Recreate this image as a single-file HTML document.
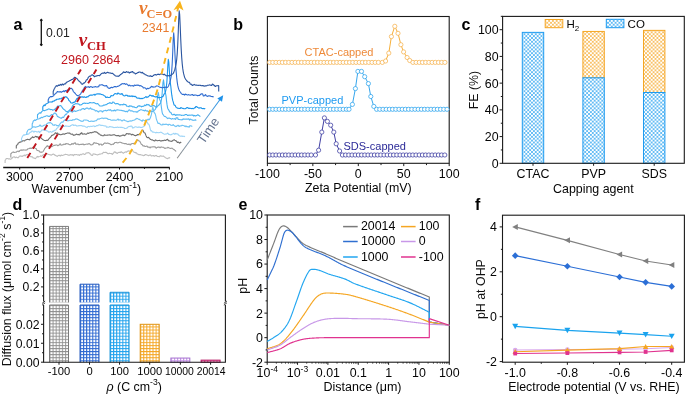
<!DOCTYPE html>
<html><head><meta charset="utf-8"><style>
html,body{margin:0;padding:0;background:#fff;width:685px;height:394px;overflow:hidden}
svg{display:block;will-change:transform;font-family:"Liberation Sans", sans-serif}
</style></head><body>
<svg width="685" height="394" viewBox="0 0 685 394">
<rect width="685" height="394" fill="#fff"/>
<text x="13.60" y="30.00" font-size="16" text-anchor="start" fill="#000" font-weight="bold" style='font-family:"Liberation Sans", sans-serif' >a</text>
<line x1="41.30" y1="19.70" x2="41.30" y2="45.20" stroke="#111" stroke-width="1.3" />
<path d="M41.3,18.6 L42.9,20.2 L41.3,21.8 L39.7,20.2 Z M41.3,43.1 L42.9,44.7 L41.3,46.3 L39.7,44.7 Z" fill="#111"/>
<text x="46.00" y="37.10" font-size="12.2" text-anchor="start" fill="#222" font-weight="normal" style='font-family:"Liberation Sans", sans-serif' >0.01</text>
<text x="78.80" y="46.30" font-size="19" text-anchor="start" fill="#C0161E" font-weight="bold" style='font-family:"Liberation Serif", serif' font-style="italic">ν</text>
<text x="87.00" y="50.40" font-size="12.6" text-anchor="start" fill="#C0161E" font-weight="bold" style='font-family:"Liberation Serif", serif' >CH</text>
<text x="61.00" y="64.20" font-size="12.55" text-anchor="start" fill="#C0161E" font-weight="normal" style='font-family:"Liberation Sans", sans-serif' >2960 2864</text>
<text x="139.10" y="13.70" font-size="19" text-anchor="start" fill="#E97B2F" font-weight="bold" style='font-family:"Liberation Serif", serif' font-style="italic">ν</text>
<text x="146.60" y="18.30" font-size="12.4" text-anchor="start" fill="#E97B2F" font-weight="bold" style='font-family:"Liberation Serif", serif' >C=O</text>
<text x="142.00" y="31.80" font-size="12.3" text-anchor="start" fill="#E97B2F" font-weight="normal" style='font-family:"Liberation Sans", sans-serif' >2341</text>
<line x1="3.20" y1="167.50" x2="169.70" y2="167.50" stroke="#111" stroke-width="1.3" />
<line x1="19.70" y1="167.50" x2="19.70" y2="169.60" stroke="#111" stroke-width="1.0" />
<text x="19.70" y="180.60" font-size="12.4" text-anchor="middle" fill="#050505" font-weight="normal" style='font-family:"Liberation Sans", sans-serif' >3000</text>
<line x1="69.60" y1="167.50" x2="69.60" y2="169.60" stroke="#111" stroke-width="1.0" />
<text x="69.60" y="180.60" font-size="12.4" text-anchor="middle" fill="#050505" font-weight="normal" style='font-family:"Liberation Sans", sans-serif' >2700</text>
<line x1="119.50" y1="167.50" x2="119.50" y2="169.60" stroke="#111" stroke-width="1.0" />
<text x="119.50" y="180.60" font-size="12.4" text-anchor="middle" fill="#050505" font-weight="normal" style='font-family:"Liberation Sans", sans-serif' >2400</text>
<line x1="169.40" y1="167.50" x2="169.40" y2="169.60" stroke="#111" stroke-width="1.0" />
<text x="169.40" y="180.60" font-size="12.4" text-anchor="middle" fill="#050505" font-weight="normal" style='font-family:"Liberation Sans", sans-serif' >2100</text>
<line x1="44.65" y1="167.50" x2="44.65" y2="168.90" stroke="#111" stroke-width="1.0" />
<line x1="94.55" y1="167.50" x2="94.55" y2="168.90" stroke="#111" stroke-width="1.0" />
<line x1="144.45" y1="167.50" x2="144.45" y2="168.90" stroke="#111" stroke-width="1.0" />
<text x="31.6" y="193.1" font-size="12.45" fill="#050505" style='font-family:"Liberation Sans", sans-serif'>Wavenumber (cm<tspan font-size="8.6" dy="-5.5">-1</tspan><tspan dy="5.5">)</tspan></text>
<path d="M5.10,163.10 L5.10,160.19 L5.60,159.87 L6.10,158.82 L6.60,158.46 L7.10,158.49 L7.60,158.44 L8.10,158.84 L8.60,158.79 L9.10,158.94 L9.60,158.75 L10.10,159.17 L10.60,159.16 L11.10,158.95 L11.60,158.65 L12.10,157.61 L12.60,157.83 L13.10,156.96 L13.60,156.92 L14.10,157.02 L14.60,156.91 L15.10,157.62 L15.60,157.59 L16.10,157.12 L16.60,157.28 L17.10,157.67 L17.60,157.45 L18.10,157.68 L18.60,157.59 L19.10,156.34 L19.60,156.15 L20.10,156.09 L20.60,155.90 L21.10,156.28 L21.60,156.13 L22.10,156.39 L22.60,156.25 L23.10,155.73 L23.60,155.77 L24.10,155.23 L24.60,155.06 L25.10,155.83 L25.60,155.65 L26.10,154.80 L26.60,154.67 L27.10,154.71 L27.60,154.59 L28.10,154.31 L28.60,154.63 L29.10,155.19 L29.60,155.60 L30.10,156.38 L30.60,156.77 L31.10,156.60 L31.60,156.87 L32.10,156.83 L32.60,157.09 L33.10,157.92 L33.60,157.90 L34.10,158.08 L34.60,158.25 L35.10,158.69 L35.60,158.56 L36.10,157.67 L36.60,157.34 L37.10,156.58 L37.60,156.41 L38.10,157.13 L38.60,156.79 L39.10,156.63 L39.60,156.38 L40.10,156.11 L40.60,155.78 L41.10,156.48 L41.60,156.13 L42.10,155.71 L42.60,155.60 L43.10,154.91 L43.60,154.82 L44.10,154.63 L44.60,154.76 L45.10,154.14 L45.60,153.92 L46.10,153.53 L46.60,153.62 L47.10,153.96 L47.60,154.08 L48.10,154.36 L48.60,154.43 L49.10,154.53 L49.60,154.65 L50.10,154.83 L50.60,154.77 L51.10,155.21 L51.60,155.02 L52.10,154.60 L52.60,154.35 L53.10,154.22 L53.60,153.99 L54.10,154.56 L54.60,154.83 L55.10,155.45 L55.60,155.30 L56.10,155.85 L56.60,156.04 L57.10,156.36 L57.60,156.32 L58.10,155.42 L58.60,155.53 L59.10,155.19 L59.60,155.32 L60.10,155.95 L60.60,155.90 L61.10,155.09 L61.60,155.16 L62.10,155.51 L62.60,155.44 L63.10,155.19 L63.60,155.06 L64.10,154.76 L64.60,154.79 L65.10,154.35 L65.60,154.33 L66.10,154.46 L66.60,154.43 L67.10,154.60 L67.60,154.71 L68.10,155.11 L68.60,155.17 L69.10,155.22 L69.60,155.21 L70.10,154.62 L70.60,154.86 L71.10,154.81 L71.60,154.83 L72.10,154.89 L72.60,154.66 L73.10,155.62 L73.60,155.64 L74.10,154.43 L74.60,154.57 L75.10,154.71 L75.60,154.66 L76.10,154.55 L76.60,154.46 L77.10,154.97 L77.60,154.99 L78.10,154.82 L78.60,154.69 L79.10,155.37 L79.60,155.34 L80.10,154.48 L80.60,154.38 L81.10,154.82 L81.60,154.69 L82.10,154.07 L82.60,153.94 L83.10,153.77 L83.60,153.74 L84.10,154.50 L84.60,154.53 L85.10,154.03 L85.60,153.92 L86.10,152.89 L86.60,152.95 L87.10,153.05 L87.60,152.87 L88.10,152.58 L88.60,152.58 L89.10,153.08 L89.60,153.12 L90.10,153.94 L90.60,154.08 L91.10,155.04 L91.60,155.20 L92.10,155.46 L92.60,155.46 L93.10,153.83 L93.60,153.99 L94.10,154.07 L94.60,154.12 L95.10,154.35 L95.60,154.32 L96.10,154.52 L96.60,154.72 L97.10,154.84 L97.60,154.87 L98.10,154.72 L98.60,154.59 L99.10,154.25 L99.60,154.14 L100.10,154.16 L100.60,154.03 L101.10,153.81 L101.60,153.76 L102.10,153.71 L102.60,153.66 L103.10,152.32 L103.60,152.35 L104.10,152.50 L104.60,152.46 L105.10,152.33 L105.60,152.32 L106.10,152.35 L106.60,152.43 L107.10,153.34 L107.60,153.24 L108.10,153.79 L108.60,153.73 L109.10,153.29 L109.60,153.29 L110.10,153.50 L110.60,153.55 L111.10,153.58 L111.60,153.60 L112.10,154.24 L112.60,154.34 L113.10,153.28 L113.60,153.13 L114.10,152.05 L114.60,151.87 L115.10,152.35 L115.60,152.09 L116.10,152.84 L116.60,152.85 L117.10,153.41 L117.60,153.24 L118.10,152.50 L118.60,152.50 L119.10,152.27 L119.60,152.52 L120.10,152.25 L120.60,152.57 L121.10,151.69 L121.60,151.97 L122.10,152.56 L122.60,152.60 L123.10,153.24 L123.60,153.19 L124.10,152.52 L124.60,152.52 L125.10,152.00 L125.60,151.88 L126.10,152.12 L126.60,152.08 L127.10,151.34 L127.60,151.38 L128.10,151.00 L128.60,150.84 L129.10,151.29 L129.60,151.07 L130.10,151.37 L130.60,151.00 L131.10,150.94 L131.60,150.36 L132.10,149.80 L132.60,150.28 L133.10,151.41 L133.60,151.87 L134.10,152.15 L134.60,152.50 L135.10,152.36 L135.60,152.93 L136.10,152.68 L136.60,153.14 L137.10,153.84 L137.60,153.93 L138.10,154.37 L138.60,154.61 L139.10,154.63 L139.60,154.65 L140.10,154.45 L140.60,154.61 L141.10,155.03 L141.60,155.07 L142.10,155.15 L142.60,155.24 L143.10,155.61 L143.60,155.60 L144.10,155.31 L144.60,155.33 L145.10,154.58 L145.60,154.62 L146.10,154.73 L146.60,154.73 L147.10,155.19 L147.60,155.34 L148.10,155.54 L148.60,155.71 L149.10,155.28 L149.60,155.26 L150.10,154.85 L150.60,154.94 L151.10,155.85 L151.60,155.88 L152.10,155.68 L152.60,155.71 L153.10,155.48 L153.60,155.52 L154.10,156.24 L154.60,156.31 L155.10,155.59 L155.60,155.73 L156.10,155.63 L156.60,155.38 L157.10,156.37 L157.60,156.47 L158.10,156.49 L158.60,156.49 L159.10,156.68 L159.60,156.69 L160.10,155.80 L160.60,155.79 L161.10,156.02 L161.60,156.12 L162.10,156.22 L162.60,156.32 L163.10,156.06 L163.60,156.08 L164.10,156.75 L164.60,156.95 L165.10,157.44 L165.60,157.64 L166.10,158.15 L166.60,158.21 L167.10,158.42 L167.60,158.62 L168.10,158.11 L168.60,158.17 L169.10,157.81 L169.60,157.98 L170.10,157.49" stroke="#BEBEBE" stroke-width="1.1" fill="none" stroke-linejoin="round" />
<path d="M10.80,157.40 L10.80,153.82 L11.30,153.48 L11.80,152.70 L12.30,152.33 L12.80,152.26 L13.30,151.92 L13.80,152.41 L14.30,152.49 L14.80,152.34 L15.30,152.32 L15.80,152.20 L16.30,152.14 L16.80,151.57 L17.30,151.36 L17.80,151.23 L18.30,151.15 L18.80,151.66 L19.30,151.47 L19.80,150.58 L20.30,150.39 L20.80,150.10 L21.30,149.84 L21.80,150.39 L22.30,150.29 L22.80,149.75 L23.30,149.84 L23.80,150.11 L24.30,150.01 L24.80,150.04 L25.30,149.96 L25.80,150.11 L26.30,150.16 L26.80,149.83 L27.30,149.65 L27.80,148.91 L28.30,148.82 L28.80,148.77 L29.30,148.59 L29.80,148.13 L30.30,147.96 L30.80,148.53 L31.30,148.53 L31.80,148.10 L32.30,147.82 L32.80,147.41 L33.30,147.41 L33.80,146.98 L34.30,147.19 L34.80,147.81 L35.30,148.22 L35.80,148.49 L36.30,148.81 L36.80,150.15 L37.30,150.48 L37.80,150.56 L38.30,150.82 L38.80,150.86 L39.30,151.04 L39.80,152.11 L40.30,152.30 L40.80,151.96 L41.30,152.04 L41.80,152.41 L42.30,152.00 L42.80,151.75 L43.30,151.31 L43.80,150.17 L44.30,149.52 L44.80,148.30 L45.30,147.87 L45.80,147.16 L46.30,146.91 L46.80,146.12 L47.30,145.62 L47.80,146.43 L48.30,146.39 L48.80,146.34 L49.30,146.37 L49.80,146.31 L50.30,146.38 L50.80,146.62 L51.30,146.57 L51.80,146.62 L52.30,146.47 L52.80,145.94 L53.30,145.83 L53.80,145.34 L54.30,145.39 L54.80,145.36 L55.30,145.28 L55.80,144.96 L56.30,144.91 L56.80,145.03 L57.30,145.28 L57.80,145.72 L58.30,145.49 L58.80,145.08 L59.30,144.93 L59.80,143.90 L60.30,143.72 L60.80,145.00 L61.30,145.09 L61.80,145.00 L62.30,145.01 L62.80,144.64 L63.30,144.66 L63.80,144.01 L64.30,144.10 L64.80,144.54 L65.30,144.42 L65.80,143.60 L66.30,143.47 L66.80,143.91 L67.30,143.85 L67.80,143.73 L68.30,143.78 L68.80,144.48 L69.30,144.50 L69.80,144.81 L70.30,144.83 L70.80,144.58 L71.30,144.41 L71.80,143.62 L72.30,143.62 L72.80,144.27 L73.30,144.20 L73.80,143.32 L74.30,143.33 L74.80,142.81 L75.30,142.70 L75.80,144.29 L76.30,144.23 L76.80,144.06 L77.30,144.11 L77.80,144.15 L78.30,144.04 L78.80,144.64 L79.30,144.75 L79.80,144.53 L80.30,144.52 L80.80,144.37 L81.30,144.40 L81.80,144.29 L82.30,144.38 L82.80,143.96 L83.30,143.97 L83.80,144.85 L84.30,144.61 L84.80,144.60 L85.30,144.56 L85.80,144.36 L86.30,144.15 L86.80,143.99 L87.30,143.94 L87.80,144.32 L88.30,144.11 L88.80,143.64 L89.30,143.67 L89.80,144.18 L90.30,144.31 L90.80,144.87 L91.30,145.00 L91.80,144.78 L92.30,144.68 L92.80,143.97 L93.30,144.12 L93.80,142.76 L94.30,142.63 L94.80,143.03 L95.30,143.11 L95.80,143.10 L96.30,143.10 L96.80,143.37 L97.30,143.49 L97.80,143.57 L98.30,143.63 L98.80,144.84 L99.30,145.00 L99.80,143.95 L100.30,144.12 L100.80,144.23 L101.30,144.16 L101.80,145.21 L102.30,144.99 L102.80,144.54 L103.30,144.50 L103.80,143.45 L104.30,143.43 L104.80,142.85 L105.30,142.96 L105.80,143.40 L106.30,143.36 L106.80,143.27 L107.30,143.14 L107.80,143.04 L108.30,143.26 L108.80,143.59 L109.30,143.55 L109.80,143.92 L110.30,144.05 L110.80,144.63 L111.30,144.73 L111.80,144.38 L112.30,144.16 L112.80,144.32 L113.30,144.35 L113.80,143.60 L114.30,143.41 L114.80,142.61 L115.30,142.55 L115.80,142.42 L116.30,142.33 L116.80,142.71 L117.30,142.72 L117.80,143.04 L118.30,142.80 L118.80,142.60 L119.30,142.29 L119.80,142.29 L120.30,142.20 L120.80,142.38 L121.30,142.43 L121.80,143.03 L122.30,142.96 L122.80,143.32 L123.30,143.31 L123.80,143.47 L124.30,143.63 L124.80,143.50 L125.30,143.63 L125.80,143.45 L126.30,143.74 L126.80,144.20 L127.30,144.34 L127.80,144.56 L128.30,144.57 L128.80,143.98 L129.30,144.00 L129.80,144.70 L130.30,144.87 L130.80,144.07 L131.30,144.14 L131.80,143.48 L132.30,143.51 L132.80,143.50 L133.30,143.69 L133.80,143.35 L134.30,143.36 L134.80,143.26 L135.30,142.93 L135.80,142.90 L136.30,141.79 L136.80,140.67 L137.30,139.71 L137.80,139.78 L138.30,140.65 L138.80,140.83 L139.30,141.10 L139.80,141.35 L140.30,142.31 L140.80,143.23 L141.30,144.25 L141.80,144.59 L142.30,144.83 L142.80,145.80 L143.30,146.11 L143.80,145.68 L144.30,145.69 L144.80,146.43 L145.30,146.46 L145.80,146.40 L146.30,146.26 L146.80,146.12 L147.30,146.29 L147.80,147.13 L148.30,147.27 L148.80,146.98 L149.30,147.02 L149.80,147.73 L150.30,147.85 L150.80,146.92 L151.30,147.09 L151.80,147.02 L152.30,147.04 L152.80,146.74 L153.30,146.79 L153.80,146.90 L154.30,146.77 L154.80,146.85 L155.30,146.90 L155.80,147.87 L156.30,148.16 L156.80,147.54 L157.30,147.56 L157.80,147.04 L158.30,146.99 L158.80,147.12 L159.30,147.17 L159.80,147.66 L160.30,147.75 L160.80,146.95 L161.30,146.82 L161.80,147.30 L162.30,147.22 L162.80,147.34 L163.30,147.19 L163.80,147.75 L164.30,147.87 L164.80,148.47 L165.30,148.50 L165.80,147.95 L166.30,147.93 L166.80,148.07 L167.30,148.03 L167.80,147.29 L168.30,147.45 L168.80,147.91 L169.30,148.09 L169.80,148.30 L170.30,148.43 L170.80,148.24 L171.30,148.36 L171.80,148.15 L172.30,148.30 L172.80,148.82 L173.30,149.16 L173.80,149.45 L174.30,149.74 L174.80,150.26 L175.30,150.42 L175.80,151.26 L176.30,151.18" stroke="#9C9C9C" stroke-width="1.1" fill="none" stroke-linejoin="round" />
<path d="M16.30,148.60 L16.30,145.78 L16.80,145.12 L17.30,144.86 L17.80,144.28 L18.30,143.03 L18.80,142.81 L19.30,142.49 L19.80,142.11 L20.30,142.16 L20.80,141.88 L21.30,141.81 L21.80,141.80 L22.30,141.04 L22.80,140.76 L23.30,140.77 L23.80,140.79 L24.30,141.05 L24.80,140.81 L25.30,140.04 L25.80,139.98 L26.30,139.77 L26.80,139.47 L27.30,139.38 L27.80,139.33 L28.30,139.53 L28.80,139.48 L29.30,139.83 L29.80,139.65 L30.30,138.87 L30.80,138.66 L31.30,137.93 L31.80,137.70 L32.30,137.01 L32.80,136.77 L33.30,137.61 L33.80,137.40 L34.30,137.19 L34.80,136.87 L35.30,136.49 L35.80,136.24 L36.30,137.00 L36.80,136.57 L37.30,137.09 L37.80,136.87 L38.30,137.39 L38.80,137.43 L39.30,136.80 L39.80,137.15 L40.30,137.52 L40.80,137.68 L41.30,138.07 L41.80,138.57 L42.30,139.16 L42.80,139.53 L43.30,139.75 L43.80,140.11 L44.30,140.40 L44.80,140.52 L45.30,140.62 L45.80,140.54 L46.30,140.39 L46.80,140.17 L47.30,140.51 L47.80,140.31 L48.30,139.64 L48.80,138.98 L49.30,138.36 L49.80,137.84 L50.30,137.38 L50.80,136.97 L51.30,136.06 L51.80,135.38 L52.30,135.37 L52.80,135.13 L53.30,134.75 L53.80,134.72 L54.30,133.96 L54.80,133.84 L55.30,132.81 L55.80,132.78 L56.30,133.40 L56.80,133.52 L57.30,133.13 L57.80,133.12 L58.30,134.17 L58.80,134.22 L59.30,134.50 L59.80,134.37 L60.30,134.78 L60.80,134.70 L61.30,134.59 L61.80,134.43 L62.30,134.11 L62.80,134.17 L63.30,133.91 L63.80,133.97 L64.30,134.15 L64.80,134.12 L65.30,133.79 L65.80,133.54 L66.30,133.48 L66.80,133.30 L67.30,133.04 L67.80,132.95 L68.30,133.01 L68.80,133.20 L69.30,132.96 L69.80,132.96 L70.30,133.84 L70.80,134.03 L71.30,134.31 L71.80,134.24 L72.30,134.12 L72.80,134.25 L73.30,135.13 L73.80,135.35 L74.30,135.14 L74.80,135.00 L75.30,134.72 L75.80,134.69 L76.30,134.13 L76.80,134.27 L77.30,134.56 L77.80,134.70 L78.30,134.42 L78.80,134.63 L79.30,134.81 L79.80,134.85 L80.30,133.57 L80.80,133.79 L81.30,132.84 L81.80,132.82 L82.30,134.05 L82.80,134.14 L83.30,133.94 L83.80,133.99 L84.30,133.85 L84.80,133.90 L85.30,134.10 L85.80,134.23 L86.30,134.15 L86.80,133.95 L87.30,133.26 L87.80,133.01 L88.30,133.33 L88.80,133.36 L89.30,132.93 L89.80,132.73 L90.30,132.66 L90.80,132.55 L91.30,132.84 L91.80,132.81 L92.30,132.32 L92.80,132.32 L93.30,132.21 L93.80,132.12 L94.30,131.68 L94.80,131.66 L95.30,131.87 L95.80,131.88 L96.30,131.91 L96.80,132.13 L97.30,132.69 L97.80,132.82 L98.30,133.77 L98.80,133.86 L99.30,133.99 L99.80,134.22 L100.30,135.02 L100.80,135.26 L101.30,135.14 L101.80,135.42 L102.30,135.64 L102.80,135.69 L103.30,135.79 L103.80,135.71 L104.30,134.79 L104.80,134.86 L105.30,135.32 L105.80,135.29 L106.30,135.18 L106.80,135.31 L107.30,135.13 L107.80,135.26 L108.30,135.10 L108.80,134.95 L109.30,135.05 L109.80,134.89 L110.30,135.22 L110.80,135.12 L111.30,135.26 L111.80,135.25 L112.30,134.96 L112.80,135.07 L113.30,134.73 L113.80,134.83 L114.30,134.68 L114.80,134.87 L115.30,135.23 L115.80,135.46 L116.30,135.64 L116.80,135.74 L117.30,135.45 L117.80,135.69 L118.30,135.42 L118.80,135.52 L119.30,136.13 L119.80,136.31 L120.30,135.78 L120.80,135.97 L121.30,135.82 L121.80,135.56 L122.30,135.20 L122.80,135.13 L123.30,135.34 L123.80,135.12 L124.30,135.69 L124.80,135.54 L125.30,134.93 L125.80,134.78 L126.30,133.79 L126.80,133.53 L127.30,133.73 L127.80,133.73 L128.30,133.85 L128.80,134.16 L129.30,133.71 L129.80,133.90 L130.30,133.95 L130.80,133.99 L131.30,134.81 L131.80,135.04 L132.30,134.21 L132.80,134.41 L133.30,134.75 L133.80,134.75 L134.30,135.41 L134.80,135.52 L135.30,135.62 L135.80,135.59 L136.30,135.36 L136.80,135.30 L137.30,134.64 L137.80,134.55 L138.30,134.68 L138.80,134.63 L139.30,134.02 L139.80,133.92 L140.30,133.18 L140.80,132.43 L141.30,131.72 L141.80,130.43 L142.30,130.11 L142.80,130.14 L143.30,131.02 L143.80,132.30 L144.30,132.78 L144.80,132.86 L145.30,133.78 L145.80,135.13 L146.30,136.34 L146.80,137.35 L147.30,137.51 L147.80,137.75 L148.30,137.29 L148.80,137.62 L149.30,138.23 L149.80,138.50 L150.30,139.55 L150.80,139.52 L151.30,139.68 L151.80,139.92 L152.30,139.85 L152.80,140.13 L153.30,140.48 L153.80,140.63 L154.30,140.87 L154.80,140.90 L155.30,139.91 L155.80,140.07 L156.30,140.28 L156.80,140.44 L157.30,140.81 L157.80,140.72 L158.30,140.54 L158.80,140.54 L159.30,140.47 L159.80,140.34 L160.30,140.96 L160.80,140.98 L161.30,140.87 L161.80,140.84 L162.30,140.50 L162.80,140.71 L163.30,140.63 L163.80,140.53 L164.30,140.13 L164.80,140.21 L165.30,140.45 L165.80,140.34 L166.30,139.82 L166.80,139.96 L167.30,139.29 L167.80,139.39 L168.30,140.59 L168.80,140.66 L169.30,140.89 L169.80,140.89 L170.30,141.12 L170.80,141.21 L171.30,141.27 L171.80,141.41 L172.30,140.82 L172.80,140.68 L173.30,139.97 L173.80,140.00 L174.30,139.79 L174.80,140.19 L175.30,140.43 L175.80,140.70 L176.30,141.05 L176.80,141.45 L177.30,142.37 L177.80,142.54 L178.30,142.15 L178.80,142.18 L179.30,143.05 L179.80,143.09 L180.30,142.30 L180.80,142.56 L181.30,142.29" stroke="#6E6E6E" stroke-width="1.1" fill="none" stroke-linejoin="round" />
<path d="M21.50,141.30 L21.50,138.44 L22.00,137.64 L22.50,136.19 L23.00,135.73 L23.50,135.24 L24.00,134.68 L24.50,135.17 L25.00,134.84 L25.50,134.76 L26.00,134.55 L26.50,134.09 L27.00,133.97 L27.50,134.19 L28.00,134.08 L28.50,134.12 L29.00,133.79 L29.50,132.86 L30.00,132.54 L30.50,132.18 L31.00,132.18 L31.50,131.24 L32.00,131.04 L32.50,131.10 L33.00,131.10 L33.50,132.03 L34.00,132.12 L34.50,131.39 L35.00,131.26 L35.50,131.47 L36.00,131.45 L36.50,131.94 L37.00,131.90 L37.50,131.95 L38.00,131.92 L38.50,131.28 L39.00,131.24 L39.50,132.56 L40.00,132.24 L40.50,131.42 L41.00,131.16 L41.50,130.26 L42.00,129.87 L42.50,130.08 L43.00,129.94 L43.50,130.16 L44.00,130.25 L44.50,130.33 L45.00,130.36 L45.50,129.79 L46.00,130.10 L46.50,130.78 L47.00,131.04 L47.50,131.02 L48.00,131.28 L48.50,132.09 L49.00,132.29 L49.50,131.87 L50.00,131.75 L50.50,131.57 L51.00,131.88 L51.50,132.23 L52.00,132.10 L52.50,131.59 L53.00,131.12 L53.50,131.34 L54.00,130.88 L54.50,130.52 L55.00,130.06 L55.50,130.29 L56.00,129.82 L56.50,128.66 L57.00,128.32 L57.50,127.90 L58.00,127.56 L58.50,126.35 L59.00,126.25 L59.50,125.84 L60.00,125.72 L60.50,125.83 L61.00,125.78 L61.50,126.72 L62.00,126.93 L62.50,126.30 L63.00,126.26 L63.50,126.43 L64.00,126.38 L64.50,126.37 L65.00,126.41 L65.50,125.82 L66.00,125.83 L66.50,126.23 L67.00,126.15 L67.50,126.25 L68.00,126.18 L68.50,126.42 L69.00,126.28 L69.50,126.54 L70.00,126.48 L70.50,125.49 L71.00,125.54 L71.50,125.13 L72.00,125.15 L72.50,124.70 L73.00,124.60 L73.50,125.45 L74.00,125.40 L74.50,125.17 L75.00,124.86 L75.50,125.34 L76.00,125.32 L76.50,125.96 L77.00,125.86 L77.50,126.07 L78.00,126.07 L78.50,125.66 L79.00,125.69 L79.50,125.58 L80.00,125.76 L80.50,125.45 L81.00,125.59 L81.50,125.48 L82.00,125.67 L82.50,126.14 L83.00,126.32 L83.50,126.11 L84.00,126.09 L84.50,126.21 L85.00,126.46 L85.50,126.89 L86.00,127.10 L86.50,127.29 L87.00,127.65 L87.50,126.82 L88.00,126.63 L88.50,126.56 L89.00,126.39 L89.50,126.71 L90.00,126.67 L90.50,126.32 L91.00,126.21 L91.50,126.39 L92.00,126.45 L92.50,126.27 L93.00,126.08 L93.50,126.00 L94.00,125.84 L94.50,126.59 L95.00,126.41 L95.50,126.41 L96.00,126.17 L96.50,125.65 L97.00,125.56 L97.50,125.63 L98.00,125.62 L98.50,124.93 L99.00,124.85 L99.50,124.75 L100.00,124.80 L100.50,125.34 L101.00,125.65 L101.50,125.29 L102.00,125.47 L102.50,125.42 L103.00,125.44 L103.50,125.73 L104.00,125.73 L104.50,125.95 L105.00,125.91 L105.50,125.98 L106.00,126.08 L106.50,127.15 L107.00,127.22 L107.50,126.92 L108.00,127.09 L108.50,127.18 L109.00,127.12 L109.50,126.47 L110.00,126.52 L110.50,126.77 L111.00,126.84 L111.50,126.93 L112.00,126.85 L112.50,127.30 L113.00,127.02 L113.50,127.57 L114.00,127.65 L114.50,127.51 L115.00,127.51 L115.50,127.41 L116.00,127.44 L116.50,127.34 L117.00,127.37 L117.50,127.01 L118.00,127.18 L118.50,127.43 L119.00,127.41 L119.50,127.27 L120.00,127.22 L120.50,127.39 L121.00,127.35 L121.50,127.36 L122.00,127.39 L122.50,127.43 L123.00,127.61 L123.50,127.70 L124.00,127.76 L124.50,128.58 L125.00,128.49 L125.50,128.48 L126.00,128.35 L126.50,128.13 L127.00,128.15 L127.50,127.26 L128.00,127.15 L128.50,126.63 L129.00,126.36 L129.50,126.52 L130.00,126.58 L130.50,126.06 L131.00,126.25 L131.50,126.12 L132.00,126.23 L132.50,127.99 L133.00,127.94 L133.50,127.58 L134.00,127.61 L134.50,127.00 L135.00,126.93 L135.50,126.77 L136.00,126.70 L136.50,126.99 L137.00,127.26 L137.50,127.24 L138.00,127.46 L138.50,127.02 L139.00,127.24 L139.50,126.96 L140.00,127.13 L140.50,127.40 L141.00,127.43 L141.50,127.51 L142.00,127.19 L142.50,127.25 L143.00,126.84 L143.50,126.64 L144.00,126.31 L144.50,125.78 L145.00,124.60 L145.50,123.51 L146.00,121.55 L146.50,120.61 L147.00,121.90 L147.50,122.81 L148.00,123.98 L148.50,123.94 L149.00,124.59 L149.50,125.99 L150.00,127.85 L150.50,130.17 L151.00,130.96 L151.50,130.65 L152.00,131.30 L152.50,132.11 L153.00,132.30 L153.50,132.04 L154.00,132.14 L154.50,132.34 L155.00,132.50 L155.50,132.68 L156.00,132.97 L156.50,132.41 L157.00,132.37 L157.50,132.62 L158.00,132.53 L158.50,132.68 L159.00,132.75 L159.50,132.50 L160.00,132.58 L160.50,132.19 L161.00,132.08 L161.50,132.54 L162.00,132.76 L162.50,133.20 L163.00,133.39 L163.50,133.80 L164.00,134.04 L164.50,134.20 L165.00,134.19 L165.50,133.99 L166.00,133.97 L166.50,133.87 L167.00,133.74 L167.50,133.15 L168.00,133.28 L168.50,134.35 L169.00,134.25 L169.50,134.49 L170.00,134.62 L170.50,134.78 L171.00,134.90 L171.50,134.36 L172.00,134.23 L172.50,134.02 L173.00,133.94 L173.50,133.32 L174.00,133.41 L174.50,134.20 L175.00,134.33 L175.50,133.40 L176.00,133.50 L176.50,133.85 L177.00,133.75 L177.50,134.16 L178.00,134.07 L178.50,135.20 L179.00,135.18 L179.50,135.86 L180.00,136.14 L180.50,136.17 L181.00,136.31 L181.50,135.94 L182.00,136.03 L182.50,136.36 L183.00,136.41 L183.50,136.26 L184.00,136.31 L184.50,136.41 L185.00,136.70" stroke="#9ED5F7" stroke-width="1.1" fill="none" stroke-linejoin="round" />
<path d="M26.80,134.90 L26.80,132.36 L27.30,131.59 L27.80,130.25 L28.30,129.91 L28.80,129.40 L29.30,129.15 L29.80,129.66 L30.30,129.49 L30.80,128.74 L31.30,128.60 L31.80,127.79 L32.30,127.65 L32.80,127.04 L33.30,126.76 L33.80,127.01 L34.30,126.84 L34.80,127.12 L35.30,127.12 L35.80,127.33 L36.30,126.99 L36.80,126.82 L37.30,126.80 L37.80,126.48 L38.30,126.36 L38.80,126.29 L39.30,126.07 L39.80,125.12 L40.30,124.97 L40.80,126.13 L41.30,126.10 L41.80,126.25 L42.30,126.19 L42.80,125.92 L43.30,125.79 L43.80,125.29 L44.30,125.21 L44.80,125.02 L45.30,125.05 L45.80,125.00 L46.30,124.66 L46.80,123.73 L47.30,123.47 L47.80,123.06 L48.30,122.66 L48.80,123.05 L49.30,123.07 L49.80,122.41 L50.30,122.57 L50.80,122.88 L51.30,123.32 L51.80,123.55 L52.30,123.99 L52.80,125.07 L53.30,125.29 L53.80,125.08 L54.30,125.38 L54.80,124.70 L55.30,124.81 L55.80,125.00 L56.30,125.08 L56.80,125.67 L57.30,125.47 L57.80,125.79 L58.30,125.48 L58.80,125.26 L59.30,124.79 L59.80,124.17 L60.30,123.70 L60.80,122.97 L61.30,122.39 L61.80,122.07 L62.30,121.74 L62.80,122.33 L63.30,121.84 L63.80,120.84 L64.30,120.53 L64.80,119.91 L65.30,119.89 L65.80,120.47 L66.30,120.38 L66.80,120.49 L67.30,120.64 L67.80,121.03 L68.30,120.78 L68.80,120.60 L69.30,120.46 L69.80,120.32 L70.30,120.29 L70.80,120.33 L71.30,120.30 L71.80,120.49 L72.30,120.28 L72.80,119.66 L73.30,119.70 L73.80,119.85 L74.30,119.91 L74.80,119.45 L75.30,119.47 L75.80,118.91 L76.30,118.87 L76.80,119.14 L77.30,118.97 L77.80,119.55 L78.30,119.47 L78.80,120.05 L79.30,120.06 L79.80,120.52 L80.30,120.64 L80.80,121.12 L81.30,121.00 L81.80,121.39 L82.30,121.43 L82.80,121.04 L83.30,121.10 L83.80,120.03 L84.30,119.97 L84.80,120.03 L85.30,120.09 L85.80,120.02 L86.30,120.05 L86.80,120.17 L87.30,120.23 L87.80,120.59 L88.30,120.60 L88.80,121.32 L89.30,121.55 L89.80,121.44 L90.30,121.54 L90.80,121.15 L91.30,121.03 L91.80,121.30 L92.30,121.15 L92.80,121.48 L93.30,121.54 L93.80,121.04 L94.30,120.98 L94.80,121.13 L95.30,120.82 L95.80,120.76 L96.30,120.65 L96.80,119.93 L97.30,119.66 L97.80,118.91 L98.30,118.77 L98.80,119.31 L99.30,119.17 L99.80,118.71 L100.30,118.48 L100.80,118.51 L101.30,118.34 L101.80,118.05 L102.30,117.97 L102.80,118.48 L103.30,118.59 L103.80,118.28 L104.30,118.10 L104.80,118.40 L105.30,118.19 L105.80,118.08 L106.30,118.36 L106.80,118.23 L107.30,118.40 L107.80,119.20 L108.30,119.39 L108.80,119.28 L109.30,119.43 L109.80,119.53 L110.30,119.53 L110.80,120.09 L111.30,120.24 L111.80,120.17 L112.30,120.32 L112.80,120.03 L113.30,120.14 L113.80,119.96 L114.30,119.95 L114.80,120.16 L115.30,120.23 L115.80,120.25 L116.30,120.15 L116.80,120.03 L117.30,119.74 L117.80,119.03 L118.30,119.12 L118.80,120.14 L119.30,120.06 L119.80,119.68 L120.30,119.72 L120.80,120.20 L121.30,120.25 L121.80,120.93 L122.30,120.96 L122.80,120.19 L123.30,120.26 L123.80,119.87 L124.30,119.85 L124.80,120.56 L125.30,120.69 L125.80,120.81 L126.30,120.92 L126.80,121.21 L127.30,121.31 L127.80,121.79 L128.30,121.63 L128.80,121.22 L129.30,121.12 L129.80,120.99 L130.30,120.73 L130.80,121.12 L131.30,121.08 L131.80,120.68 L132.30,120.74 L132.80,120.35 L133.30,120.26 L133.80,120.17 L134.30,120.07 L134.80,119.88 L135.30,119.51 L135.80,118.91 L136.30,118.94 L136.80,118.38 L137.30,118.47 L137.80,118.76 L138.30,118.96 L138.80,119.35 L139.30,119.23 L139.80,119.82 L140.30,119.96 L140.80,120.27 L141.30,120.55 L141.80,120.95 L142.30,121.18 L142.80,119.90 L143.30,119.99 L143.80,120.31 L144.30,120.47 L144.80,120.86 L145.30,120.75 L145.80,120.07 L146.30,119.95 L146.80,119.91 L147.30,119.91 L147.80,119.35 L148.30,119.13 L148.80,119.90 L149.30,119.61 L149.80,118.84 L150.30,118.05 L150.80,116.53 L151.30,114.94 L151.80,112.30 L152.30,109.19 L152.80,107.21 L153.30,108.83 L153.80,111.72 L154.30,112.75 L154.80,113.26 L155.30,114.11 L155.80,116.13 L156.30,118.85 L156.80,120.25 L157.30,121.42 L157.80,123.03 L158.30,123.54 L158.80,123.03 L159.30,123.40 L159.80,123.88 L160.30,124.10 L160.80,124.76 L161.30,124.86 L161.80,125.02 L162.30,124.94 L162.80,124.07 L163.30,124.12 L163.80,124.64 L164.30,124.56 L164.80,124.35 L165.30,124.54 L165.80,124.08 L166.30,124.14 L166.80,124.38 L167.30,124.45 L167.80,124.92 L168.30,125.15 L168.80,124.40 L169.30,124.36 L169.80,124.46 L170.30,124.71 L170.80,125.27 L171.30,125.26 L171.80,125.39 L172.30,125.48 L172.80,124.74 L173.30,124.63 L173.80,125.45 L174.30,125.50 L174.80,126.13 L175.30,126.15 L175.80,126.63 L176.30,126.56 L176.80,125.91 L177.30,125.86 L177.80,125.33 L178.30,125.36 L178.80,126.20 L179.30,126.39 L179.80,125.78 L180.30,125.94 L180.80,125.82 L181.30,125.90 L181.80,125.40 L182.30,125.30 L182.80,125.54 L183.30,125.53 L183.80,125.67 L184.30,125.79 L184.80,126.55 L185.30,126.63 L185.80,125.91 L186.30,126.07 L186.80,126.82 L187.30,126.83 L187.80,126.60 L188.30,126.65 L188.80,127.12 L189.30,127.18 L189.80,125.67 L190.30,125.79 L190.80,125.87 L191.30,126.09 L191.80,126.11 L192.30,126.43" stroke="#70C3F4" stroke-width="1.1" fill="none" stroke-linejoin="round" />
<path d="M32.20,127.00 L32.20,123.90 L32.70,123.08 L33.20,121.17 L33.70,120.75 L34.20,120.50 L34.70,119.94 L35.20,120.48 L35.70,120.28 L36.20,119.80 L36.70,119.42 L37.20,119.12 L37.70,118.97 L38.20,118.93 L38.70,118.91 L39.20,118.76 L39.70,118.54 L40.20,117.98 L40.70,118.23 L41.20,117.44 L41.70,117.24 L42.20,117.55 L42.70,117.66 L43.20,116.99 L43.70,116.82 L44.20,116.72 L44.70,116.38 L45.20,116.45 L45.70,116.17 L46.20,115.71 L46.70,115.80 L47.20,116.05 L47.70,115.85 L48.20,116.41 L48.70,116.27 L49.20,116.55 L49.70,116.47 L50.20,115.53 L50.70,115.59 L51.20,114.80 L51.70,114.57 L52.20,114.86 L52.70,114.63 L53.20,114.28 L53.70,113.86 L54.20,113.08 L54.70,112.96 L55.20,113.24 L55.70,113.35 L56.20,114.30 L56.70,114.71 L57.20,116.12 L57.70,116.60 L58.20,116.73 L58.70,117.12 L59.20,117.32 L59.70,117.64 L60.20,117.83 L60.70,118.17 L61.20,118.09 L61.70,118.22 L62.20,117.32 L62.70,117.16 L63.20,117.56 L63.70,117.38 L64.20,116.14 L64.70,115.66 L65.20,114.80 L65.70,114.20 L66.20,114.38 L66.70,113.81 L67.20,112.93 L67.70,112.45 L68.20,112.47 L68.70,112.02 L69.20,110.91 L69.70,110.73 L70.20,111.16 L70.70,110.97 L71.20,111.69 L71.70,111.84 L72.20,112.02 L72.70,112.12 L73.20,111.15 L73.70,111.13 L74.20,110.90 L74.70,110.68 L75.20,111.55 L75.70,111.38 L76.20,111.20 L76.70,110.99 L77.20,110.75 L77.70,110.64 L78.20,110.42 L78.70,110.25 L79.20,110.04 L79.70,109.94 L80.20,110.04 L80.70,110.10 L81.20,109.40 L81.70,109.29 L82.20,108.69 L82.70,108.62 L83.20,108.50 L83.70,108.47 L84.20,109.51 L84.70,109.42 L85.20,108.91 L85.70,108.80 L86.20,108.07 L86.70,108.00 L87.20,108.23 L87.70,108.04 L88.20,108.79 L88.70,108.98 L89.20,108.84 L89.70,108.76 L90.20,107.91 L90.70,107.96 L91.20,109.08 L91.70,109.26 L92.20,108.96 L92.70,109.18 L93.20,109.48 L93.70,109.73 L94.20,109.75 L94.70,109.91 L95.20,110.87 L95.70,110.97 L96.20,110.65 L96.70,110.68 L97.20,111.23 L97.70,111.24 L98.20,111.99 L98.70,111.95 L99.20,111.03 L99.70,110.98 L100.20,110.98 L100.70,110.76 L101.20,110.97 L101.70,110.95 L102.20,111.91 L102.70,111.85 L103.20,111.05 L103.70,110.89 L104.20,110.74 L104.70,110.59 L105.20,110.40 L105.70,110.37 L106.20,110.91 L106.70,110.81 L107.20,110.50 L107.70,110.35 L108.20,109.75 L108.70,109.92 L109.20,110.17 L109.70,110.22 L110.20,109.63 L110.70,109.85 L111.20,110.71 L111.70,111.01 L112.20,110.76 L112.70,110.81 L113.20,110.57 L113.70,110.84 L114.20,110.15 L114.70,110.12 L115.20,110.81 L115.70,110.96 L116.20,110.04 L116.70,109.98 L117.20,109.85 L117.70,109.81 L118.20,110.04 L118.70,109.94 L119.20,110.13 L119.70,110.19 L120.20,110.31 L120.70,110.27 L121.20,110.56 L121.70,110.39 L122.20,110.63 L122.70,110.63 L123.20,110.89 L123.70,110.78 L124.20,111.10 L124.70,111.06 L125.20,111.58 L125.70,111.76 L126.20,111.24 L126.70,111.30 L127.20,111.74 L127.70,111.89 L128.20,110.61 L128.70,110.37 L129.20,109.84 L129.70,109.96 L130.20,110.80 L130.70,111.04 L131.20,110.85 L131.70,110.86 L132.20,111.04 L132.70,111.11 L133.20,111.67 L133.70,111.83 L134.20,111.73 L134.70,111.70 L135.20,111.82 L135.70,111.70 L136.20,112.25 L136.70,111.87 L137.20,111.79 L137.70,112.07 L138.20,110.91 L138.70,110.78 L139.20,110.50 L139.70,110.36 L140.20,109.83 L140.70,109.82 L141.20,109.80 L141.70,109.76 L142.20,110.04 L142.70,110.23 L143.20,110.40 L143.70,110.32 L144.20,110.79 L144.70,110.89 L145.20,110.08 L145.70,110.30 L146.20,110.85 L146.70,110.94 L147.20,110.74 L147.70,110.93 L148.20,111.63 L148.70,111.62 L149.20,112.25 L149.70,112.30 L150.20,111.55 L150.70,111.56 L151.20,111.23 L151.70,111.31 L152.20,111.59 L152.70,111.45 L153.20,111.16 L153.70,110.87 L154.20,110.39 L154.70,109.90 L155.20,109.59 L155.70,108.58 L156.20,107.58 L156.70,105.09 L157.20,100.10 L157.70,95.26 L158.20,92.41 L158.70,94.65 L159.20,97.50 L159.70,99.66 L160.20,100.54 L160.70,101.66 L161.20,105.68 L161.70,109.61 L162.20,112.62 L162.70,114.23 L163.20,114.73 L163.70,115.52 L164.20,116.21 L164.70,116.53 L165.20,116.42 L165.70,116.72 L166.20,117.12 L166.70,117.39 L167.20,118.35 L167.70,118.57 L168.20,118.14 L168.70,118.19 L169.20,118.08 L169.70,118.29 L170.20,118.56 L170.70,118.66 L171.20,119.02 L171.70,119.12 L172.20,118.57 L172.70,118.65 L173.20,118.83 L173.70,118.93 L174.20,118.63 L174.70,118.73 L175.20,119.26 L175.70,119.38 L176.20,117.67 L176.70,117.85 L177.20,117.78 L177.70,117.73 L178.20,119.49 L178.70,119.51 L179.20,119.58 L179.70,119.49 L180.20,119.79 L180.70,119.69 L181.20,119.80 L181.70,119.86 L182.20,119.40 L182.70,119.63 L183.20,118.90 L183.70,118.94 L184.20,119.17 L184.70,119.08 L185.20,119.22 L185.70,119.14 L186.20,119.07 L186.70,119.13 L187.20,119.17 L187.70,119.15 L188.20,118.91 L188.70,118.74 L189.20,119.70 L189.70,120.03 L190.20,119.14 L190.70,119.20 L191.20,119.67 L191.70,119.68 L192.20,120.19 L192.70,120.12 L193.20,120.31 L193.70,120.36 L194.20,120.16 L194.70,120.24 L195.20,119.80 L195.70,119.91 L196.20,120.56" stroke="#5CB9F3" stroke-width="1.1" fill="none" stroke-linejoin="round" />
<path d="M37.50,118.50 L37.50,114.73 L38.00,114.24 L38.50,113.83 L39.00,113.28 L39.50,112.90 L40.00,112.65 L40.50,113.17 L41.00,112.99 L41.50,111.74 L42.00,111.52 L42.50,110.78 L43.00,110.61 L43.50,110.56 L44.00,110.50 L44.50,110.62 L45.00,110.41 L45.50,110.16 L46.00,110.03 L46.50,109.82 L47.00,109.89 L47.50,109.41 L48.00,109.19 L48.50,108.96 L49.00,108.89 L49.50,109.30 L50.00,109.20 L50.50,109.62 L51.00,109.47 L51.50,109.57 L52.00,109.62 L52.50,110.15 L53.00,109.98 L53.50,110.02 L54.00,109.81 L54.50,109.38 L55.00,109.20 L55.50,108.37 L56.00,108.12 L56.50,107.18 L57.00,106.93 L57.50,106.30 L58.00,105.97 L58.50,106.16 L59.00,105.97 L59.50,105.79 L60.00,105.71 L60.50,105.51 L61.00,105.69 L61.50,106.58 L62.00,107.13 L62.50,107.87 L63.00,108.63 L63.50,109.00 L64.00,109.53 L64.50,109.76 L65.00,110.16 L65.50,111.09 L66.00,111.29 L66.50,111.53 L67.00,111.60 L67.50,111.50 L68.00,111.44 L68.50,111.01 L69.00,110.63 L69.50,110.04 L70.00,109.54 L70.50,109.25 L71.00,108.57 L71.50,107.86 L72.00,107.26 L72.50,105.77 L73.00,105.07 L73.50,104.69 L74.00,104.28 L74.50,104.36 L75.00,104.03 L75.50,103.65 L76.00,103.58 L76.50,103.80 L77.00,103.84 L77.50,103.73 L78.00,103.73 L78.50,104.19 L79.00,104.17 L79.50,104.85 L80.00,104.78 L80.50,105.05 L81.00,105.03 L81.50,104.44 L82.00,104.46 L82.50,103.79 L83.00,103.40 L83.50,103.29 L84.00,103.36 L84.50,103.00 L85.00,103.05 L85.50,103.53 L86.00,103.32 L86.50,103.32 L87.00,103.17 L87.50,103.48 L88.00,103.56 L88.50,103.30 L89.00,103.18 L89.50,102.63 L90.00,102.56 L90.50,102.62 L91.00,102.67 L91.50,102.84 L92.00,102.98 L92.50,102.71 L93.00,102.71 L93.50,102.47 L94.00,102.55 L94.50,102.95 L95.00,103.00 L95.50,103.60 L96.00,103.80 L96.50,103.71 L97.00,103.98 L97.50,103.48 L98.00,103.66 L98.50,104.62 L99.00,105.04 L99.50,105.82 L100.00,106.00 L100.50,105.99 L101.00,105.97 L101.50,105.96 L102.00,106.08 L102.50,105.82 L103.00,105.73 L103.50,105.12 L104.00,105.12 L104.50,105.14 L105.00,105.03 L105.50,104.77 L106.00,104.65 L106.50,104.68 L107.00,104.30 L107.50,103.66 L108.00,103.56 L108.50,103.36 L109.00,103.28 L109.50,102.76 L110.00,102.49 L110.50,103.23 L111.00,103.12 L111.50,103.43 L112.00,103.51 L112.50,102.14 L113.00,102.11 L113.50,102.28 L114.00,102.25 L114.50,103.34 L115.00,103.48 L115.50,103.85 L116.00,103.89 L116.50,103.45 L117.00,103.61 L117.50,103.62 L118.00,103.62 L118.50,104.20 L119.00,104.31 L119.50,104.84 L120.00,105.11 L120.50,104.55 L121.00,104.63 L121.50,104.68 L122.00,104.59 L122.50,104.73 L123.00,104.90 L123.50,104.16 L124.00,104.16 L124.50,104.55 L125.00,104.65 L125.50,104.60 L126.00,104.55 L126.50,106.04 L127.00,106.27 L127.50,106.22 L128.00,106.26 L128.50,106.58 L129.00,106.82 L129.50,105.87 L130.00,105.89 L130.50,106.01 L131.00,106.33 L131.50,106.12 L132.00,106.36 L132.50,106.87 L133.00,106.83 L133.50,106.87 L134.00,106.88 L134.50,107.09 L135.00,107.46 L135.50,107.58 L136.00,107.70 L136.50,107.61 L137.00,107.47 L137.50,106.37 L138.00,106.35 L138.50,105.94 L139.00,105.68 L139.50,106.15 L140.00,105.91 L140.50,106.32 L141.00,106.19 L141.50,106.88 L142.00,106.57 L142.50,106.38 L143.00,106.34 L143.50,106.28 L144.00,106.07 L144.50,105.13 L145.00,105.05 L145.50,105.51 L146.00,105.64 L146.50,104.53 L147.00,104.38 L147.50,104.78 L148.00,104.90 L148.50,104.66 L149.00,104.62 L149.50,105.76 L150.00,105.89 L150.50,106.24 L151.00,106.57 L151.50,105.92 L152.00,106.11 L152.50,105.59 L153.00,105.62 L153.50,105.49 L154.00,105.62 L154.50,106.08 L155.00,106.22 L155.50,107.07 L156.00,106.91 L156.50,107.30 L157.00,106.98 L157.50,106.07 L158.00,105.81 L158.50,105.45 L159.00,104.98 L159.50,104.24 L160.00,103.49 L160.50,103.21 L161.00,101.69 L161.50,99.34 L162.00,95.21 L162.50,88.91 L163.00,82.40 L163.50,79.90 L164.00,83.51 L164.50,88.47 L165.00,92.14 L165.50,93.28 L166.00,95.85 L166.50,100.58 L167.00,104.39 L167.50,107.29 L168.00,109.00 L168.50,109.54 L169.00,110.50 L169.50,111.60 L170.00,112.21 L170.50,112.31 L171.00,112.56 L171.50,114.01 L172.00,114.39 L172.50,114.66 L173.00,114.90 L173.50,114.40 L174.00,114.14 L174.50,114.69 L175.00,114.66 L175.50,115.36 L176.00,115.27 L176.50,114.75 L177.00,114.85 L177.50,114.73 L178.00,114.98 L178.50,114.91 L179.00,114.94 L179.50,114.85 L180.00,114.90 L180.50,115.07 L181.00,115.14 L181.50,115.44 L182.00,115.29 L182.50,115.25 L183.00,115.32 L183.50,115.25 L184.00,115.40 L184.50,114.99 L185.00,114.99 L185.50,114.46 L186.00,114.53 L186.50,114.52 L187.00,114.82 L187.50,115.48 L188.00,115.44 L188.50,115.21 L189.00,114.89 L189.50,115.19 L190.00,115.27 L190.50,115.19 L191.00,115.03 L191.50,115.01 L192.00,115.23 L192.50,115.01 L193.00,114.94 L193.50,116.00 L194.00,115.97 L194.50,115.40 L195.00,115.58 L195.50,115.97 L196.00,115.95 L196.50,115.46 L197.00,115.37 L197.50,114.77 L198.00,114.73 L198.50,115.28 L199.00,115.51 L199.50,115.96 L200.00,116.31 L200.50,116.22" stroke="#47B0F0" stroke-width="1.1" fill="none" stroke-linejoin="round" />
<path d="M42.80,109.90 L42.80,106.77 L43.30,106.17 L43.80,105.33 L44.30,104.82 L44.80,105.74 L45.30,105.35 L45.80,104.16 L46.30,103.75 L46.80,103.63 L47.30,103.37 L47.80,103.01 L48.30,102.68 L48.80,102.23 L49.30,102.05 L49.80,101.99 L50.30,101.98 L50.80,102.01 L51.30,101.89 L51.80,102.12 L52.30,101.94 L52.80,101.16 L53.30,101.03 L53.80,101.29 L54.30,100.96 L54.80,100.37 L55.30,100.27 L55.80,99.81 L56.30,99.88 L56.80,99.20 L57.30,99.30 L57.80,99.27 L58.30,99.16 L58.80,98.91 L59.30,98.61 L59.80,98.98 L60.30,98.80 L60.80,98.77 L61.30,98.53 L61.80,98.13 L62.30,97.95 L62.80,97.76 L63.30,97.77 L63.80,97.36 L64.30,97.10 L64.80,97.01 L65.30,96.89 L65.80,96.78 L66.30,97.21 L66.80,97.17 L67.30,97.91 L67.80,98.44 L68.30,98.79 L68.80,100.32 L69.30,100.76 L69.80,101.22 L70.30,101.79 L70.80,102.67 L71.30,102.97 L71.80,102.97 L72.30,103.10 L72.80,102.84 L73.30,102.57 L73.80,102.38 L74.30,101.92 L74.80,102.12 L75.30,101.65 L75.80,100.28 L76.30,99.62 L76.80,98.64 L77.30,98.29 L77.80,98.56 L78.30,97.80 L78.80,97.50 L79.30,97.20 L79.80,96.90 L80.30,96.68 L80.80,97.14 L81.30,97.18 L81.80,96.73 L82.30,96.70 L82.80,97.22 L83.30,97.36 L83.80,96.88 L84.30,96.80 L84.80,97.20 L85.30,97.29 L85.80,97.55 L86.30,97.38 L86.80,96.83 L87.30,96.63 L87.80,96.97 L88.30,96.57 L88.80,95.76 L89.30,95.77 L89.80,95.29 L90.30,95.08 L90.80,95.29 L91.30,95.13 L91.80,95.09 L92.30,95.12 L92.80,95.03 L93.30,94.85 L93.80,94.58 L94.30,94.27 L94.80,95.16 L95.30,95.05 L95.80,94.28 L96.30,94.10 L96.80,93.95 L97.30,94.02 L97.80,93.70 L98.30,93.80 L98.80,94.04 L99.30,94.11 L99.80,93.70 L100.30,93.92 L100.80,94.31 L101.30,94.42 L101.80,94.45 L102.30,94.76 L102.80,94.81 L103.30,94.92 L103.80,95.51 L104.30,95.77 L104.80,96.03 L105.30,96.45 L105.80,97.43 L106.30,97.52 L106.80,97.14 L107.30,97.08 L107.80,97.38 L108.30,97.48 L108.80,97.48 L109.30,97.44 L109.80,97.25 L110.30,97.14 L110.80,95.96 L111.30,95.53 L111.80,95.86 L112.30,95.80 L112.80,95.73 L113.30,95.46 L113.80,94.61 L114.30,94.24 L114.80,93.68 L115.30,93.53 L115.80,93.69 L116.30,93.81 L116.80,94.14 L117.30,94.10 L117.80,93.00 L118.30,93.07 L118.80,93.64 L119.30,93.77 L119.80,94.10 L120.30,94.10 L120.80,94.01 L121.30,94.29 L121.80,93.57 L122.30,93.67 L122.80,95.01 L123.30,95.18 L123.80,95.71 L124.30,95.93 L124.80,95.77 L125.30,95.76 L125.80,95.13 L126.30,95.22 L126.80,95.38 L127.30,95.36 L127.80,96.27 L128.30,96.27 L128.80,95.86 L129.30,95.76 L129.80,96.48 L130.30,96.51 L130.80,95.93 L131.30,95.91 L131.80,96.41 L132.30,96.61 L132.80,95.92 L133.30,96.19 L133.80,96.37 L134.30,96.68 L134.80,96.23 L135.30,96.30 L135.80,96.97 L136.30,97.08 L136.80,97.93 L137.30,97.97 L137.80,98.21 L138.30,98.13 L138.80,98.03 L139.30,98.14 L139.80,98.59 L140.30,98.68 L140.80,98.36 L141.30,98.39 L141.80,98.78 L142.30,98.63 L142.80,98.32 L143.30,98.29 L143.80,98.09 L144.30,97.85 L144.80,97.42 L145.30,97.28 L145.80,96.64 L146.30,96.69 L146.80,97.55 L147.30,97.20 L147.80,96.88 L148.30,96.95 L148.80,96.24 L149.30,95.88 L149.80,95.17 L150.30,95.16 L150.80,95.51 L151.30,95.63 L151.80,96.10 L152.30,96.23 L152.80,95.53 L153.30,95.78 L153.80,96.39 L154.30,96.54 L154.80,96.70 L155.30,96.93 L155.80,96.82 L156.30,97.03 L156.80,96.55 L157.30,96.71 L157.80,97.63 L158.30,97.68 L158.80,97.47 L159.30,97.45 L159.80,97.54 L160.30,97.52 L160.80,97.46 L161.30,97.30 L161.80,97.12 L162.30,96.66 L162.80,96.69 L163.30,96.00 L163.80,94.48 L164.30,93.81 L164.80,93.68 L165.30,92.34 L165.80,90.48 L166.30,87.25 L166.80,82.81 L167.30,75.60 L167.80,66.13 L168.30,59.30 L168.80,62.01 L169.30,69.98 L169.80,77.53 L170.30,82.80 L170.80,86.30 L171.30,91.08 L171.80,95.20 L172.30,98.34 L172.80,100.64 L173.30,102.06 L173.80,104.24 L174.30,105.14 L174.80,105.17 L175.30,105.62 L175.80,106.93 L176.30,107.38 L176.80,107.69 L177.30,108.12 L177.80,108.22 L178.30,108.31 L178.80,108.40 L179.30,108.44 L179.80,108.34 L180.30,108.33 L180.80,107.64 L181.30,107.70 L181.80,108.07 L182.30,108.19 L182.80,108.45 L183.30,108.41 L183.80,108.73 L184.30,108.69 L184.80,108.77 L185.30,108.73 L185.80,108.36 L186.30,108.32 L186.80,107.55 L187.30,107.57 L187.80,107.89 L188.30,107.95 L188.80,108.54 L189.30,108.49 L189.80,108.05 L190.30,108.28 L190.80,108.49 L191.30,108.60 L191.80,108.55 L192.30,108.38 L192.80,108.62 L193.30,108.77 L193.80,108.28 L194.30,108.27 L194.80,107.64 L195.30,107.66 L195.80,106.56 L196.30,106.50 L196.80,106.87 L197.30,107.01 L197.80,107.56 L198.30,107.70 L198.80,108.14 L199.30,108.13 L199.80,107.72 L200.30,107.77 L200.80,107.88 L201.30,107.85 L201.80,108.51 L202.30,108.58 L202.80,108.58 L203.30,108.42 L203.80,108.80 L204.30,108.90 L204.80,108.43 L205.30,108.60" stroke="#1A94EA" stroke-width="1.1" fill="none" stroke-linejoin="round" />
<path d="M48.20,102.30 L48.20,99.68 L48.70,98.87 L49.20,97.65 L49.70,97.13 L50.20,96.89 L50.70,96.52 L51.20,96.83 L51.70,96.56 L52.20,96.60 L52.70,96.41 L53.20,95.94 L53.70,95.70 L54.20,94.48 L54.70,94.27 L55.20,93.86 L55.70,93.48 L56.20,92.99 L56.70,92.79 L57.20,91.63 L57.70,91.46 L58.20,91.81 L58.70,92.01 L59.20,91.87 L59.70,91.78 L60.20,92.02 L60.70,91.67 L61.20,92.23 L61.70,92.25 L62.20,91.62 L62.70,91.54 L63.20,91.05 L63.70,90.87 L64.20,91.65 L64.70,91.61 L65.20,90.54 L65.70,90.58 L66.20,91.19 L66.70,90.86 L67.20,90.11 L67.70,89.96 L68.20,90.86 L68.70,90.49 L69.20,89.73 L69.70,89.28 L70.20,88.52 L70.70,88.42 L71.20,88.21 L71.70,88.61 L72.20,89.19 L72.70,89.79 L73.20,91.26 L73.70,91.83 L74.20,92.32 L74.70,93.00 L75.20,93.33 L75.70,94.02 L76.20,94.65 L76.70,95.07 L77.20,95.54 L77.70,95.60 L78.20,96.04 L78.70,95.73 L79.20,95.20 L79.70,94.71 L80.20,94.35 L80.70,93.77 L81.20,92.73 L81.70,92.04 L82.20,90.92 L82.70,90.36 L83.20,89.63 L83.70,88.98 L84.20,87.84 L84.70,87.23 L85.20,86.76 L85.70,86.45 L86.20,87.33 L86.70,87.23 L87.20,86.93 L87.70,87.07 L88.20,86.65 L88.70,86.86 L89.20,87.39 L89.70,87.38 L90.20,86.70 L90.70,86.64 L91.20,86.74 L91.70,86.72 L92.20,87.35 L92.70,87.34 L93.20,86.97 L93.70,86.98 L94.20,86.99 L94.70,86.85 L95.20,86.58 L95.70,86.64 L96.20,86.92 L96.70,86.95 L97.20,87.07 L97.70,86.86 L98.20,86.76 L98.70,86.71 L99.20,85.19 L99.70,84.91 L100.20,85.10 L100.70,84.93 L101.20,84.77 L101.70,84.69 L102.20,84.91 L102.70,84.89 L103.20,85.48 L103.70,85.49 L104.20,85.84 L104.70,86.02 L105.20,85.82 L105.70,85.84 L106.20,85.51 L106.70,85.56 L107.20,87.02 L107.70,87.14 L108.20,87.98 L108.70,88.27 L109.20,88.24 L109.70,88.40 L110.20,87.76 L110.70,88.04 L111.20,87.23 L111.70,87.37 L112.20,87.62 L112.70,87.61 L113.20,87.16 L113.70,87.01 L114.20,86.55 L114.70,86.48 L115.20,86.93 L115.70,86.55 L116.20,86.94 L116.70,86.80 L117.20,86.60 L117.70,86.35 L118.20,86.30 L118.70,85.99 L119.20,85.78 L119.70,85.40 L120.20,85.08 L120.70,84.78 L121.20,84.17 L121.70,84.12 L122.20,83.59 L122.70,83.68 L123.20,83.77 L123.70,83.88 L124.20,83.53 L124.70,83.55 L125.20,84.29 L125.70,84.33 L126.20,83.87 L126.70,84.02 L127.20,84.44 L127.70,84.67 L128.20,85.59 L128.70,85.63 L129.20,85.04 L129.70,85.16 L130.20,85.81 L130.70,85.88 L131.20,85.69 L131.70,85.72 L132.20,85.61 L132.70,85.75 L133.20,86.10 L133.70,86.28 L134.20,85.16 L134.70,85.00 L135.20,85.42 L135.70,85.54 L136.20,85.20 L136.70,85.15 L137.20,85.09 L137.70,85.16 L138.20,85.37 L138.70,85.12 L139.20,85.75 L139.70,85.90 L140.20,85.55 L140.70,85.85 L141.20,85.83 L141.70,86.18 L142.20,86.50 L142.70,86.79 L143.20,87.75 L143.70,88.00 L144.20,87.80 L144.70,87.81 L145.20,87.97 L145.70,88.17 L146.20,89.10 L146.70,89.12 L147.20,88.55 L147.70,88.30 L148.20,88.64 L148.70,88.45 L149.20,88.26 L149.70,88.08 L150.20,87.70 L150.70,87.26 L151.20,86.60 L151.70,86.30 L152.20,87.03 L152.70,86.73 L153.20,87.20 L153.70,87.07 L154.20,86.93 L154.70,86.99 L155.20,86.85 L155.70,86.65 L156.20,86.08 L156.70,85.92 L157.20,85.95 L157.70,86.05 L158.20,86.17 L158.70,86.40 L159.20,86.83 L159.70,87.22 L160.20,87.32 L160.70,87.55 L161.20,87.40 L161.70,87.80 L162.20,87.72 L162.70,87.82 L163.20,87.55 L163.70,87.41 L164.20,87.47 L164.70,87.50 L165.20,87.20 L165.70,87.10 L166.20,87.56 L166.70,87.20 L167.20,87.41 L167.70,87.13 L168.20,86.50 L168.70,85.49 L169.20,83.92 L169.70,82.92 L170.20,80.98 L170.70,78.81 L171.20,76.06 L171.70,71.11 L172.20,63.70 L172.70,52.80 L173.20,39.86 L173.70,32.90 L174.20,38.80 L174.70,49.24 L175.20,59.11 L175.70,66.33 L176.20,71.95 L176.70,77.65 L177.20,81.82 L177.70,85.19 L178.20,87.30 L178.70,89.11 L179.20,90.34 L179.70,91.28 L180.20,91.91 L180.70,92.50 L181.20,93.53 L181.70,93.86 L182.20,94.17 L182.70,94.50 L183.20,94.28 L183.70,94.35 L184.20,94.83 L184.70,95.12 L185.20,94.01 L185.70,94.22 L186.20,94.57 L186.70,94.64 L187.20,94.92 L187.70,94.99 L188.20,94.75 L188.70,94.64 L189.20,94.99 L189.70,95.07 L190.20,95.17 L190.70,94.99 L191.20,94.89 L191.70,94.78 L192.20,94.64 L192.70,94.57 L193.20,95.56 L193.70,95.50 L194.20,95.08 L194.70,95.08 L195.20,94.96 L195.70,94.94 L196.20,95.32 L196.70,95.23 L197.20,95.68 L197.70,95.45 L198.20,95.60 L198.70,95.41 L199.20,95.45 L199.70,95.47 L200.20,94.40 L200.70,94.38 L201.20,93.97 L201.70,93.77 L202.20,93.83 L202.70,93.92 L203.20,95.84 L203.70,95.87 L204.20,95.69 L204.70,95.73 L205.20,94.70 L205.70,94.62 L206.20,95.72 L206.70,95.90 L207.20,96.29 L207.70,96.46 L208.20,95.73 L208.70,95.90 L209.20,95.96 L209.70,95.78 L210.20,95.90 L210.70,96.13 L211.20,96.55 L211.70,96.52 L212.20,96.65 L212.70,96.67 L213.20,96.73 L213.70,96.93" stroke="#2F6CD0" stroke-width="1.1" fill="none" stroke-linejoin="round" />
<path d="M53.20,94.70 L53.20,91.44 L53.70,90.24 L54.20,89.01 L54.70,88.25 L55.20,87.13 L55.70,86.61 L56.20,85.86 L56.70,85.67 L57.20,86.26 L57.70,86.04 L58.20,85.34 L58.70,85.05 L59.20,85.46 L59.70,85.19 L60.20,84.46 L60.70,84.39 L61.20,85.22 L61.70,84.96 L62.20,84.09 L62.70,83.95 L63.20,84.94 L63.70,84.67 L64.20,84.01 L64.70,83.89 L65.20,83.85 L65.70,83.74 L66.20,82.54 L66.70,82.23 L67.20,81.94 L67.70,81.66 L68.20,81.52 L68.70,81.16 L69.20,80.96 L69.70,80.65 L70.20,80.58 L70.70,80.36 L71.20,79.80 L71.70,79.48 L72.20,79.55 L72.70,79.23 L73.20,78.75 L73.70,78.50 L74.20,77.61 L74.70,77.24 L75.20,77.66 L75.70,77.57 L76.20,78.27 L76.70,78.45 L77.20,78.92 L77.70,79.57 L78.20,80.25 L78.70,80.97 L79.20,80.95 L79.70,81.73 L80.20,81.99 L80.70,82.33 L81.20,83.56 L81.70,83.96 L82.20,84.14 L82.70,84.28 L83.20,83.32 L83.70,83.14 L84.20,83.16 L84.70,82.52 L85.20,82.09 L85.70,81.47 L86.20,80.20 L86.70,79.68 L87.20,79.61 L87.70,78.72 L88.20,77.55 L88.70,76.87 L89.20,76.55 L89.70,76.15 L90.20,76.20 L90.70,75.94 L91.20,75.20 L91.70,74.94 L92.20,74.86 L92.70,74.87 L93.20,75.58 L93.70,75.65 L94.20,76.72 L94.70,76.75 L95.20,76.14 L95.70,76.24 L96.20,76.10 L96.70,75.87 L97.20,75.75 L97.70,75.58 L98.20,75.55 L98.70,75.46 L99.20,75.60 L99.70,75.63 L100.20,74.91 L100.70,74.56 L101.20,73.80 L101.70,73.53 L102.20,73.25 L102.70,73.12 L103.20,73.33 L103.70,73.15 L104.20,72.57 L104.70,72.38 L105.20,73.39 L105.70,73.22 L106.20,73.05 L106.70,72.89 L107.20,72.31 L107.70,72.31 L108.20,72.64 L108.70,72.79 L109.20,73.01 L109.70,73.06 L110.20,72.84 L110.70,73.21 L111.20,73.32 L111.70,73.51 L112.20,73.24 L112.70,73.30 L113.20,74.02 L113.70,74.32 L114.20,74.97 L114.70,75.11 L115.20,75.69 L115.70,76.02 L116.20,76.03 L116.70,76.20 L117.20,76.18 L117.70,76.06 L118.20,76.21 L118.70,76.33 L119.20,75.63 L119.70,75.44 L120.20,74.82 L120.70,74.59 L121.20,74.08 L121.70,73.85 L122.20,73.34 L122.70,72.96 L123.20,72.15 L123.70,71.84 L124.20,72.40 L124.70,72.34 L125.20,72.58 L125.70,72.40 L126.20,71.70 L126.70,71.55 L127.20,72.15 L127.70,72.21 L128.20,72.11 L128.70,72.15 L129.20,72.90 L129.70,72.96 L130.20,72.39 L130.70,72.45 L131.20,71.89 L131.70,72.09 L132.20,71.50 L132.70,71.49 L133.20,72.69 L133.70,72.79 L134.20,73.04 L134.70,72.92 L135.20,73.84 L135.70,73.86 L136.20,73.44 L136.70,73.36 L137.20,72.86 L137.70,72.75 L138.20,72.32 L138.70,72.35 L139.20,71.94 L139.70,72.00 L140.20,72.16 L140.70,72.21 L141.20,72.84 L141.70,72.81 L142.20,72.32 L142.70,72.59 L143.20,73.58 L143.70,73.79 L144.20,73.88 L144.70,74.03 L145.20,74.75 L145.70,74.77 L146.20,75.11 L146.70,75.32 L147.20,75.61 L147.70,75.86 L148.20,75.98 L148.70,75.97 L149.20,76.16 L149.70,76.28 L150.20,75.70 L150.70,75.83 L151.20,76.50 L151.70,76.33 L152.20,76.46 L152.70,76.23 L153.20,75.53 L153.70,75.37 L154.20,74.87 L154.70,74.69 L155.20,74.66 L155.70,74.49 L156.20,75.11 L156.70,74.92 L157.20,74.57 L157.70,74.33 L158.20,74.38 L158.70,74.18 L159.20,74.73 L159.70,74.55 L160.20,74.12 L160.70,73.95 L161.20,73.96 L161.70,73.99 L162.20,74.15 L162.70,74.30 L163.20,74.46 L163.70,74.75 L164.20,74.18 L164.70,74.63 L165.20,75.10 L165.70,75.35 L166.20,75.75 L166.70,75.87 L167.20,75.68 L167.70,75.75 L168.20,75.55 L168.70,75.67 L169.20,75.87 L169.70,75.83 L170.20,75.54 L170.70,75.45 L171.20,75.05 L171.70,74.66 L172.20,74.25 L172.70,73.90 L173.20,73.56 L173.70,72.61 L174.20,71.05 L174.70,70.22 L175.20,67.96 L175.70,65.94 L176.20,63.32 L176.70,59.55 L177.20,53.89 L177.70,45.47 L178.20,33.55 L178.70,19.43 L179.20,10.80 L179.70,14.90 L180.20,26.06 L180.70,38.50 L181.20,49.12 L181.70,57.23 L182.20,63.61 L182.70,68.16 L183.20,71.53 L183.70,73.91 L184.20,75.87 L184.70,77.48 L185.20,78.57 L185.70,79.38 L186.20,80.00 L186.70,80.82 L187.20,81.18 L187.70,81.74 L188.20,81.98 L188.70,82.34 L189.20,82.21 L189.70,82.76 L190.20,84.17 L190.70,84.19 L191.20,84.13 L191.70,84.56 L192.20,85.34 L192.70,85.44 L193.20,84.96 L193.70,84.96 L194.20,84.44 L194.70,84.78 L195.20,84.99 L195.70,85.11 L196.20,85.01 L196.70,85.15 L197.20,85.33 L197.70,85.29 L198.20,85.25 L198.70,85.47 L199.20,85.20 L199.70,85.32 L200.20,85.37 L200.70,85.39 L201.20,85.75 L201.70,85.75 L202.20,85.50 L202.70,85.48 L203.20,85.94 L203.70,85.75 L204.20,86.12 L204.70,85.96 L205.20,85.85 L205.70,85.88 L206.20,85.84 L206.70,85.79 L207.20,85.29 L207.70,85.32 L208.20,85.26 L208.70,85.18 L209.20,84.91 L209.70,84.97 L210.20,85.06 L210.70,85.22 L211.20,85.55 L211.70,85.54 L212.20,84.17 L212.70,84.00 L213.20,84.64 L213.70,84.74 L214.20,85.69 L214.70,85.66 L215.20,86.46 L215.70,86.48 L216.20,85.69 L216.70,85.78 L217.20,85.78 L217.70,85.79 L218.20,85.51 L218.70,85.70 L218.70,91.50" stroke="#2A55A0" stroke-width="1.1" fill="none" stroke-linejoin="round" />
<line x1="27.30" y1="158.10" x2="80.90" y2="69.40" stroke="#C0161E" stroke-width="1.9" stroke-dasharray="6.1 4.8"/>
<line x1="43.40" y1="158.10" x2="96.40" y2="69.40" stroke="#C0161E" stroke-width="1.9" stroke-dasharray="6.1 4.8"/>
<path d="M122.6,162.6 C123.70,161.23 127.25,157.37 129.20,154.40 C131.15,151.43 132.10,148.93 134.30,144.80 C136.50,140.67 139.75,135.40 142.40,129.60 C145.05,123.80 147.68,116.68 150.20,110.00 C152.72,103.32 155.20,97.17 157.50,89.50 C159.80,81.83 161.87,72.25 164.00,64.00 C166.13,55.75 168.43,47.33 170.30,40.00 C172.17,32.67 173.88,25.42 175.20,20.00 C176.52,14.58 177.70,9.58 178.20,7.50" stroke="#F8B41C" stroke-width="1.9" fill="none" stroke-dasharray="6 4.8"/>
<path d="M180.0,0.8 L173.4,10.2 L179.0,7.7 L183.5,10.4 Z" fill="#F8B41C"/>
<defs><linearGradient id="tg" gradientUnits="userSpaceOnUse" x1="177.1" y1="158.2" x2="223.2" y2="95.2"><stop offset="0" stop-color="#8C8C8C"/><stop offset="0.45" stop-color="#7FA6C8"/><stop offset="1" stop-color="#1E92EA"/></linearGradient></defs>
<path d="M177.1,158.2 L220.4,99.0" stroke="url(#tg)" stroke-width="1.05" fill="none"/>
<path d="M223.2,95.2 L217.3,98.4 L222.0,101.8 Z" fill="#1E92EA"/>
<text x="0" y="0" font-size="13" fill="#64738F" text-anchor="middle" style='font-family:"Liberation Sans", sans-serif' transform="translate(211.8,133.0) rotate(-55)">Time</text>
<text x="233.20" y="30.40" font-size="16" text-anchor="start" fill="#000" font-weight="bold" style='font-family:"Liberation Sans", sans-serif' >b</text>
<rect x="267.4" y="16.5" width="181.8" height="146.8" fill="none" stroke="#1a1a1a" stroke-width="1.1"/>
<line x1="267.40" y1="163.30" x2="267.40" y2="166.10" stroke="#1a1a1a" stroke-width="1.0" />
<text x="267.40" y="177.80" font-size="12.4" text-anchor="middle" fill="#050505" font-weight="normal" style='font-family:"Liberation Sans", sans-serif' >-100</text>
<line x1="290.12" y1="163.30" x2="290.12" y2="165.10" stroke="#1a1a1a" stroke-width="1.0" />
<line x1="312.85" y1="163.30" x2="312.85" y2="166.10" stroke="#1a1a1a" stroke-width="1.0" />
<text x="312.85" y="177.80" font-size="12.4" text-anchor="middle" fill="#050505" font-weight="normal" style='font-family:"Liberation Sans", sans-serif' >-50</text>
<line x1="335.57" y1="163.30" x2="335.57" y2="165.10" stroke="#1a1a1a" stroke-width="1.0" />
<line x1="358.30" y1="163.30" x2="358.30" y2="166.10" stroke="#1a1a1a" stroke-width="1.0" />
<text x="358.30" y="177.80" font-size="12.4" text-anchor="middle" fill="#050505" font-weight="normal" style='font-family:"Liberation Sans", sans-serif' >0</text>
<line x1="381.02" y1="163.30" x2="381.02" y2="165.10" stroke="#1a1a1a" stroke-width="1.0" />
<line x1="403.75" y1="163.30" x2="403.75" y2="166.10" stroke="#1a1a1a" stroke-width="1.0" />
<text x="403.75" y="177.80" font-size="12.4" text-anchor="middle" fill="#050505" font-weight="normal" style='font-family:"Liberation Sans", sans-serif' >50</text>
<line x1="426.48" y1="163.30" x2="426.48" y2="165.10" stroke="#1a1a1a" stroke-width="1.0" />
<line x1="449.20" y1="163.30" x2="449.20" y2="166.10" stroke="#1a1a1a" stroke-width="1.0" />
<text x="449.20" y="177.80" font-size="12.4" text-anchor="middle" fill="#050505" font-weight="normal" style='font-family:"Liberation Sans", sans-serif' >100</text>
<text x="358.30" y="191.90" font-size="12.4" text-anchor="middle" fill="#050505" font-weight="normal" style='font-family:"Liberation Sans", sans-serif' >Zeta Potential (mV)</text>
<text x="0" y="0" font-size="12.4" fill="#111" text-anchor="middle" style='font-family:"Liberation Sans", sans-serif' transform="translate(257.6,90.1) rotate(-90)">Total Counts</text>
<path d="M269.60,62.40 L272.80,62.40 L276.00,62.40 L279.20,62.40 L282.40,62.40 L285.60,62.40 L288.80,62.40 L292.00,62.40 L295.20,62.40 L298.40,62.40 L301.60,62.40 L304.80,62.40 L308.00,62.40 L311.20,62.40 L314.40,62.40 L317.60,62.40 L320.80,62.40 L324.00,62.40 L327.20,62.40 L330.40,62.40 L333.60,62.40 L336.80,62.40 L340.00,62.40 L343.20,62.40 L346.40,62.40 L349.60,62.40 L352.80,62.40 L356.00,62.40 L359.20,62.40 L362.40,62.40 L365.60,62.40 L368.80,62.40 L372.00,62.40 L375.20,62.40 L378.40,62.40 L382.30,62.40 L385.60,61.00 L388.80,53.10 L391.40,36.60 L394.80,26.30 L398.00,33.30 L400.90,44.70 L403.60,51.90 L407.10,57.50 L409.70,60.50 L412.90,62.40 L416.10,62.40 L419.30,62.40 L422.50,62.40 L425.70,62.40 L428.90,62.40 L432.10,62.40 L435.30,62.40 L438.50,62.40 L441.70,62.40 L444.90,62.40" stroke="#F5A623" stroke-width="0.9" fill="none" stroke-linejoin="round" />
<circle cx="269.60" cy="62.40" r="2.1" fill="#fff" stroke="#F5B24E" stroke-width="0.75"/>
<circle cx="272.80" cy="62.40" r="2.1" fill="#fff" stroke="#F5B24E" stroke-width="0.75"/>
<circle cx="276.00" cy="62.40" r="2.1" fill="#fff" stroke="#F5B24E" stroke-width="0.75"/>
<circle cx="279.20" cy="62.40" r="2.1" fill="#fff" stroke="#F5B24E" stroke-width="0.75"/>
<circle cx="282.40" cy="62.40" r="2.1" fill="#fff" stroke="#F5B24E" stroke-width="0.75"/>
<circle cx="285.60" cy="62.40" r="2.1" fill="#fff" stroke="#F5B24E" stroke-width="0.75"/>
<circle cx="288.80" cy="62.40" r="2.1" fill="#fff" stroke="#F5B24E" stroke-width="0.75"/>
<circle cx="292.00" cy="62.40" r="2.1" fill="#fff" stroke="#F5B24E" stroke-width="0.75"/>
<circle cx="295.20" cy="62.40" r="2.1" fill="#fff" stroke="#F5B24E" stroke-width="0.75"/>
<circle cx="298.40" cy="62.40" r="2.1" fill="#fff" stroke="#F5B24E" stroke-width="0.75"/>
<circle cx="301.60" cy="62.40" r="2.1" fill="#fff" stroke="#F5B24E" stroke-width="0.75"/>
<circle cx="304.80" cy="62.40" r="2.1" fill="#fff" stroke="#F5B24E" stroke-width="0.75"/>
<circle cx="308.00" cy="62.40" r="2.1" fill="#fff" stroke="#F5B24E" stroke-width="0.75"/>
<circle cx="311.20" cy="62.40" r="2.1" fill="#fff" stroke="#F5B24E" stroke-width="0.75"/>
<circle cx="314.40" cy="62.40" r="2.1" fill="#fff" stroke="#F5B24E" stroke-width="0.75"/>
<circle cx="317.60" cy="62.40" r="2.1" fill="#fff" stroke="#F5B24E" stroke-width="0.75"/>
<circle cx="320.80" cy="62.40" r="2.1" fill="#fff" stroke="#F5B24E" stroke-width="0.75"/>
<circle cx="324.00" cy="62.40" r="2.1" fill="#fff" stroke="#F5B24E" stroke-width="0.75"/>
<circle cx="327.20" cy="62.40" r="2.1" fill="#fff" stroke="#F5B24E" stroke-width="0.75"/>
<circle cx="330.40" cy="62.40" r="2.1" fill="#fff" stroke="#F5B24E" stroke-width="0.75"/>
<circle cx="333.60" cy="62.40" r="2.1" fill="#fff" stroke="#F5B24E" stroke-width="0.75"/>
<circle cx="336.80" cy="62.40" r="2.1" fill="#fff" stroke="#F5B24E" stroke-width="0.75"/>
<circle cx="340.00" cy="62.40" r="2.1" fill="#fff" stroke="#F5B24E" stroke-width="0.75"/>
<circle cx="343.20" cy="62.40" r="2.1" fill="#fff" stroke="#F5B24E" stroke-width="0.75"/>
<circle cx="346.40" cy="62.40" r="2.1" fill="#fff" stroke="#F5B24E" stroke-width="0.75"/>
<circle cx="349.60" cy="62.40" r="2.1" fill="#fff" stroke="#F5B24E" stroke-width="0.75"/>
<circle cx="352.80" cy="62.40" r="2.1" fill="#fff" stroke="#F5B24E" stroke-width="0.75"/>
<circle cx="356.00" cy="62.40" r="2.1" fill="#fff" stroke="#F5B24E" stroke-width="0.75"/>
<circle cx="359.20" cy="62.40" r="2.1" fill="#fff" stroke="#F5B24E" stroke-width="0.75"/>
<circle cx="362.40" cy="62.40" r="2.1" fill="#fff" stroke="#F5B24E" stroke-width="0.75"/>
<circle cx="365.60" cy="62.40" r="2.1" fill="#fff" stroke="#F5B24E" stroke-width="0.75"/>
<circle cx="368.80" cy="62.40" r="2.1" fill="#fff" stroke="#F5B24E" stroke-width="0.75"/>
<circle cx="372.00" cy="62.40" r="2.1" fill="#fff" stroke="#F5B24E" stroke-width="0.75"/>
<circle cx="375.20" cy="62.40" r="2.1" fill="#fff" stroke="#F5B24E" stroke-width="0.75"/>
<circle cx="378.40" cy="62.40" r="2.1" fill="#fff" stroke="#F5B24E" stroke-width="0.75"/>
<circle cx="382.30" cy="62.40" r="2.1" fill="#fff" stroke="#F5B24E" stroke-width="0.75"/>
<circle cx="385.60" cy="61.00" r="2.1" fill="#fff" stroke="#F5B24E" stroke-width="0.75"/>
<circle cx="388.80" cy="53.10" r="2.1" fill="#fff" stroke="#F5B24E" stroke-width="0.75"/>
<circle cx="391.40" cy="36.60" r="2.1" fill="#fff" stroke="#F5B24E" stroke-width="0.75"/>
<circle cx="394.80" cy="26.30" r="2.1" fill="#fff" stroke="#F5B24E" stroke-width="0.75"/>
<circle cx="398.00" cy="33.30" r="2.1" fill="#fff" stroke="#F5B24E" stroke-width="0.75"/>
<circle cx="400.90" cy="44.70" r="2.1" fill="#fff" stroke="#F5B24E" stroke-width="0.75"/>
<circle cx="403.60" cy="51.90" r="2.1" fill="#fff" stroke="#F5B24E" stroke-width="0.75"/>
<circle cx="407.10" cy="57.50" r="2.1" fill="#fff" stroke="#F5B24E" stroke-width="0.75"/>
<circle cx="409.70" cy="60.50" r="2.1" fill="#fff" stroke="#F5B24E" stroke-width="0.75"/>
<circle cx="412.90" cy="62.40" r="2.1" fill="#fff" stroke="#F5B24E" stroke-width="0.75"/>
<circle cx="416.10" cy="62.40" r="2.1" fill="#fff" stroke="#F5B24E" stroke-width="0.75"/>
<circle cx="419.30" cy="62.40" r="2.1" fill="#fff" stroke="#F5B24E" stroke-width="0.75"/>
<circle cx="422.50" cy="62.40" r="2.1" fill="#fff" stroke="#F5B24E" stroke-width="0.75"/>
<circle cx="425.70" cy="62.40" r="2.1" fill="#fff" stroke="#F5B24E" stroke-width="0.75"/>
<circle cx="428.90" cy="62.40" r="2.1" fill="#fff" stroke="#F5B24E" stroke-width="0.75"/>
<circle cx="432.10" cy="62.40" r="2.1" fill="#fff" stroke="#F5B24E" stroke-width="0.75"/>
<circle cx="435.30" cy="62.40" r="2.1" fill="#fff" stroke="#F5B24E" stroke-width="0.75"/>
<circle cx="438.50" cy="62.40" r="2.1" fill="#fff" stroke="#F5B24E" stroke-width="0.75"/>
<circle cx="441.70" cy="62.40" r="2.1" fill="#fff" stroke="#F5B24E" stroke-width="0.75"/>
<circle cx="444.90" cy="62.40" r="2.1" fill="#fff" stroke="#F5B24E" stroke-width="0.75"/>
<path d="M269.60,109.30 L272.80,109.30 L276.00,109.30 L279.20,109.30 L282.40,109.30 L285.60,109.30 L288.80,109.30 L292.00,109.30 L295.20,109.30 L298.40,109.30 L301.60,109.30 L304.80,109.30 L308.00,109.30 L311.20,109.30 L314.40,109.30 L317.60,109.30 L320.80,109.30 L324.00,109.30 L327.20,109.30 L330.40,109.30 L333.60,109.30 L336.80,109.30 L340.00,109.30 L343.20,109.30 L346.40,109.30 L349.00,109.30 L352.40,104.40 L355.40,88.60 L357.90,71.40 L361.50,71.40 L364.70,76.70 L368.40,83.60 L370.80,96.50 L373.80,106.40 L376.60,109.30 L379.80,109.30 L383.00,109.30 L386.20,109.30 L389.40,109.30 L392.60,109.30 L395.80,109.30 L399.00,109.30 L402.20,109.30 L405.40,109.30 L408.60,109.30 L411.80,109.30 L415.00,109.30 L418.20,109.30 L421.40,109.30 L424.60,109.30 L427.80,109.30 L431.00,109.30 L434.20,109.30 L437.40,109.30 L440.60,109.30 L443.80,109.30 L447.00,109.30" stroke="#1E9BEA" stroke-width="0.9" fill="none" stroke-linejoin="round" />
<circle cx="269.60" cy="109.30" r="2.1" fill="#fff" stroke="#2AA3EE" stroke-width="0.75"/>
<circle cx="272.80" cy="109.30" r="2.1" fill="#fff" stroke="#2AA3EE" stroke-width="0.75"/>
<circle cx="276.00" cy="109.30" r="2.1" fill="#fff" stroke="#2AA3EE" stroke-width="0.75"/>
<circle cx="279.20" cy="109.30" r="2.1" fill="#fff" stroke="#2AA3EE" stroke-width="0.75"/>
<circle cx="282.40" cy="109.30" r="2.1" fill="#fff" stroke="#2AA3EE" stroke-width="0.75"/>
<circle cx="285.60" cy="109.30" r="2.1" fill="#fff" stroke="#2AA3EE" stroke-width="0.75"/>
<circle cx="288.80" cy="109.30" r="2.1" fill="#fff" stroke="#2AA3EE" stroke-width="0.75"/>
<circle cx="292.00" cy="109.30" r="2.1" fill="#fff" stroke="#2AA3EE" stroke-width="0.75"/>
<circle cx="295.20" cy="109.30" r="2.1" fill="#fff" stroke="#2AA3EE" stroke-width="0.75"/>
<circle cx="298.40" cy="109.30" r="2.1" fill="#fff" stroke="#2AA3EE" stroke-width="0.75"/>
<circle cx="301.60" cy="109.30" r="2.1" fill="#fff" stroke="#2AA3EE" stroke-width="0.75"/>
<circle cx="304.80" cy="109.30" r="2.1" fill="#fff" stroke="#2AA3EE" stroke-width="0.75"/>
<circle cx="308.00" cy="109.30" r="2.1" fill="#fff" stroke="#2AA3EE" stroke-width="0.75"/>
<circle cx="311.20" cy="109.30" r="2.1" fill="#fff" stroke="#2AA3EE" stroke-width="0.75"/>
<circle cx="314.40" cy="109.30" r="2.1" fill="#fff" stroke="#2AA3EE" stroke-width="0.75"/>
<circle cx="317.60" cy="109.30" r="2.1" fill="#fff" stroke="#2AA3EE" stroke-width="0.75"/>
<circle cx="320.80" cy="109.30" r="2.1" fill="#fff" stroke="#2AA3EE" stroke-width="0.75"/>
<circle cx="324.00" cy="109.30" r="2.1" fill="#fff" stroke="#2AA3EE" stroke-width="0.75"/>
<circle cx="327.20" cy="109.30" r="2.1" fill="#fff" stroke="#2AA3EE" stroke-width="0.75"/>
<circle cx="330.40" cy="109.30" r="2.1" fill="#fff" stroke="#2AA3EE" stroke-width="0.75"/>
<circle cx="333.60" cy="109.30" r="2.1" fill="#fff" stroke="#2AA3EE" stroke-width="0.75"/>
<circle cx="336.80" cy="109.30" r="2.1" fill="#fff" stroke="#2AA3EE" stroke-width="0.75"/>
<circle cx="340.00" cy="109.30" r="2.1" fill="#fff" stroke="#2AA3EE" stroke-width="0.75"/>
<circle cx="343.20" cy="109.30" r="2.1" fill="#fff" stroke="#2AA3EE" stroke-width="0.75"/>
<circle cx="346.40" cy="109.30" r="2.1" fill="#fff" stroke="#2AA3EE" stroke-width="0.75"/>
<circle cx="349.00" cy="109.30" r="2.1" fill="#fff" stroke="#2AA3EE" stroke-width="0.75"/>
<circle cx="352.40" cy="104.40" r="2.1" fill="#fff" stroke="#2AA3EE" stroke-width="0.75"/>
<circle cx="355.40" cy="88.60" r="2.1" fill="#fff" stroke="#2AA3EE" stroke-width="0.75"/>
<circle cx="357.90" cy="71.40" r="2.1" fill="#fff" stroke="#2AA3EE" stroke-width="0.75"/>
<circle cx="361.50" cy="71.40" r="2.1" fill="#fff" stroke="#2AA3EE" stroke-width="0.75"/>
<circle cx="364.70" cy="76.70" r="2.1" fill="#fff" stroke="#2AA3EE" stroke-width="0.75"/>
<circle cx="368.40" cy="83.60" r="2.1" fill="#fff" stroke="#2AA3EE" stroke-width="0.75"/>
<circle cx="370.80" cy="96.50" r="2.1" fill="#fff" stroke="#2AA3EE" stroke-width="0.75"/>
<circle cx="373.80" cy="106.40" r="2.1" fill="#fff" stroke="#2AA3EE" stroke-width="0.75"/>
<circle cx="376.60" cy="109.30" r="2.1" fill="#fff" stroke="#2AA3EE" stroke-width="0.75"/>
<circle cx="379.80" cy="109.30" r="2.1" fill="#fff" stroke="#2AA3EE" stroke-width="0.75"/>
<circle cx="383.00" cy="109.30" r="2.1" fill="#fff" stroke="#2AA3EE" stroke-width="0.75"/>
<circle cx="386.20" cy="109.30" r="2.1" fill="#fff" stroke="#2AA3EE" stroke-width="0.75"/>
<circle cx="389.40" cy="109.30" r="2.1" fill="#fff" stroke="#2AA3EE" stroke-width="0.75"/>
<circle cx="392.60" cy="109.30" r="2.1" fill="#fff" stroke="#2AA3EE" stroke-width="0.75"/>
<circle cx="395.80" cy="109.30" r="2.1" fill="#fff" stroke="#2AA3EE" stroke-width="0.75"/>
<circle cx="399.00" cy="109.30" r="2.1" fill="#fff" stroke="#2AA3EE" stroke-width="0.75"/>
<circle cx="402.20" cy="109.30" r="2.1" fill="#fff" stroke="#2AA3EE" stroke-width="0.75"/>
<circle cx="405.40" cy="109.30" r="2.1" fill="#fff" stroke="#2AA3EE" stroke-width="0.75"/>
<circle cx="408.60" cy="109.30" r="2.1" fill="#fff" stroke="#2AA3EE" stroke-width="0.75"/>
<circle cx="411.80" cy="109.30" r="2.1" fill="#fff" stroke="#2AA3EE" stroke-width="0.75"/>
<circle cx="415.00" cy="109.30" r="2.1" fill="#fff" stroke="#2AA3EE" stroke-width="0.75"/>
<circle cx="418.20" cy="109.30" r="2.1" fill="#fff" stroke="#2AA3EE" stroke-width="0.75"/>
<circle cx="421.40" cy="109.30" r="2.1" fill="#fff" stroke="#2AA3EE" stroke-width="0.75"/>
<circle cx="424.60" cy="109.30" r="2.1" fill="#fff" stroke="#2AA3EE" stroke-width="0.75"/>
<circle cx="427.80" cy="109.30" r="2.1" fill="#fff" stroke="#2AA3EE" stroke-width="0.75"/>
<circle cx="431.00" cy="109.30" r="2.1" fill="#fff" stroke="#2AA3EE" stroke-width="0.75"/>
<circle cx="434.20" cy="109.30" r="2.1" fill="#fff" stroke="#2AA3EE" stroke-width="0.75"/>
<circle cx="437.40" cy="109.30" r="2.1" fill="#fff" stroke="#2AA3EE" stroke-width="0.75"/>
<circle cx="440.60" cy="109.30" r="2.1" fill="#fff" stroke="#2AA3EE" stroke-width="0.75"/>
<circle cx="443.80" cy="109.30" r="2.1" fill="#fff" stroke="#2AA3EE" stroke-width="0.75"/>
<circle cx="447.00" cy="109.30" r="2.1" fill="#fff" stroke="#2AA3EE" stroke-width="0.75"/>
<path d="M269.60,155.00 L272.80,155.00 L276.00,155.00 L279.20,155.00 L282.40,155.00 L285.60,155.00 L288.80,155.00 L292.00,155.00 L295.20,155.00 L298.40,155.00 L301.60,155.00 L304.80,155.00 L308.00,155.00 L311.20,155.00 L315.50,155.00 L318.60,150.20 L321.80,132.10 L324.40,117.90 L327.40,121.40 L330.70,125.20 L333.80,132.10 L336.20,143.80 L339.60,151.00 L342.40,155.00 L345.60,155.00 L348.80,155.00 L352.00,155.00 L355.20,155.00 L358.40,155.00 L361.60,155.00 L364.80,155.00 L368.00,155.00 L371.20,155.00 L374.40,155.00 L377.60,155.00 L380.80,155.00 L384.00,155.00 L387.20,155.00 L390.40,155.00 L393.60,155.00 L396.80,155.00 L400.00,155.00 L403.20,155.00 L406.40,155.00 L409.60,155.00 L412.80,155.00 L416.00,155.00 L419.20,155.00 L422.40,155.00 L425.60,155.00 L428.80,155.00 L432.00,155.00 L435.20,155.00 L438.40,155.00 L441.60,155.00 L444.80,155.00" stroke="#2B2A98" stroke-width="0.9" fill="none" stroke-linejoin="round" />
<circle cx="269.60" cy="155.00" r="2.1" fill="#fff" stroke="#3A3AA0" stroke-width="0.75"/>
<circle cx="272.80" cy="155.00" r="2.1" fill="#fff" stroke="#3A3AA0" stroke-width="0.75"/>
<circle cx="276.00" cy="155.00" r="2.1" fill="#fff" stroke="#3A3AA0" stroke-width="0.75"/>
<circle cx="279.20" cy="155.00" r="2.1" fill="#fff" stroke="#3A3AA0" stroke-width="0.75"/>
<circle cx="282.40" cy="155.00" r="2.1" fill="#fff" stroke="#3A3AA0" stroke-width="0.75"/>
<circle cx="285.60" cy="155.00" r="2.1" fill="#fff" stroke="#3A3AA0" stroke-width="0.75"/>
<circle cx="288.80" cy="155.00" r="2.1" fill="#fff" stroke="#3A3AA0" stroke-width="0.75"/>
<circle cx="292.00" cy="155.00" r="2.1" fill="#fff" stroke="#3A3AA0" stroke-width="0.75"/>
<circle cx="295.20" cy="155.00" r="2.1" fill="#fff" stroke="#3A3AA0" stroke-width="0.75"/>
<circle cx="298.40" cy="155.00" r="2.1" fill="#fff" stroke="#3A3AA0" stroke-width="0.75"/>
<circle cx="301.60" cy="155.00" r="2.1" fill="#fff" stroke="#3A3AA0" stroke-width="0.75"/>
<circle cx="304.80" cy="155.00" r="2.1" fill="#fff" stroke="#3A3AA0" stroke-width="0.75"/>
<circle cx="308.00" cy="155.00" r="2.1" fill="#fff" stroke="#3A3AA0" stroke-width="0.75"/>
<circle cx="311.20" cy="155.00" r="2.1" fill="#fff" stroke="#3A3AA0" stroke-width="0.75"/>
<circle cx="315.50" cy="155.00" r="2.1" fill="#fff" stroke="#3A3AA0" stroke-width="0.75"/>
<circle cx="318.60" cy="150.20" r="2.1" fill="#fff" stroke="#3A3AA0" stroke-width="0.75"/>
<circle cx="321.80" cy="132.10" r="2.1" fill="#fff" stroke="#3A3AA0" stroke-width="0.75"/>
<circle cx="324.40" cy="117.90" r="2.1" fill="#fff" stroke="#3A3AA0" stroke-width="0.75"/>
<circle cx="327.40" cy="121.40" r="2.1" fill="#fff" stroke="#3A3AA0" stroke-width="0.75"/>
<circle cx="330.70" cy="125.20" r="2.1" fill="#fff" stroke="#3A3AA0" stroke-width="0.75"/>
<circle cx="333.80" cy="132.10" r="2.1" fill="#fff" stroke="#3A3AA0" stroke-width="0.75"/>
<circle cx="336.20" cy="143.80" r="2.1" fill="#fff" stroke="#3A3AA0" stroke-width="0.75"/>
<circle cx="339.60" cy="151.00" r="2.1" fill="#fff" stroke="#3A3AA0" stroke-width="0.75"/>
<circle cx="342.40" cy="155.00" r="2.1" fill="#fff" stroke="#3A3AA0" stroke-width="0.75"/>
<circle cx="345.60" cy="155.00" r="2.1" fill="#fff" stroke="#3A3AA0" stroke-width="0.75"/>
<circle cx="348.80" cy="155.00" r="2.1" fill="#fff" stroke="#3A3AA0" stroke-width="0.75"/>
<circle cx="352.00" cy="155.00" r="2.1" fill="#fff" stroke="#3A3AA0" stroke-width="0.75"/>
<circle cx="355.20" cy="155.00" r="2.1" fill="#fff" stroke="#3A3AA0" stroke-width="0.75"/>
<circle cx="358.40" cy="155.00" r="2.1" fill="#fff" stroke="#3A3AA0" stroke-width="0.75"/>
<circle cx="361.60" cy="155.00" r="2.1" fill="#fff" stroke="#3A3AA0" stroke-width="0.75"/>
<circle cx="364.80" cy="155.00" r="2.1" fill="#fff" stroke="#3A3AA0" stroke-width="0.75"/>
<circle cx="368.00" cy="155.00" r="2.1" fill="#fff" stroke="#3A3AA0" stroke-width="0.75"/>
<circle cx="371.20" cy="155.00" r="2.1" fill="#fff" stroke="#3A3AA0" stroke-width="0.75"/>
<circle cx="374.40" cy="155.00" r="2.1" fill="#fff" stroke="#3A3AA0" stroke-width="0.75"/>
<circle cx="377.60" cy="155.00" r="2.1" fill="#fff" stroke="#3A3AA0" stroke-width="0.75"/>
<circle cx="380.80" cy="155.00" r="2.1" fill="#fff" stroke="#3A3AA0" stroke-width="0.75"/>
<circle cx="384.00" cy="155.00" r="2.1" fill="#fff" stroke="#3A3AA0" stroke-width="0.75"/>
<circle cx="387.20" cy="155.00" r="2.1" fill="#fff" stroke="#3A3AA0" stroke-width="0.75"/>
<circle cx="390.40" cy="155.00" r="2.1" fill="#fff" stroke="#3A3AA0" stroke-width="0.75"/>
<circle cx="393.60" cy="155.00" r="2.1" fill="#fff" stroke="#3A3AA0" stroke-width="0.75"/>
<circle cx="396.80" cy="155.00" r="2.1" fill="#fff" stroke="#3A3AA0" stroke-width="0.75"/>
<circle cx="400.00" cy="155.00" r="2.1" fill="#fff" stroke="#3A3AA0" stroke-width="0.75"/>
<circle cx="403.20" cy="155.00" r="2.1" fill="#fff" stroke="#3A3AA0" stroke-width="0.75"/>
<circle cx="406.40" cy="155.00" r="2.1" fill="#fff" stroke="#3A3AA0" stroke-width="0.75"/>
<circle cx="409.60" cy="155.00" r="2.1" fill="#fff" stroke="#3A3AA0" stroke-width="0.75"/>
<circle cx="412.80" cy="155.00" r="2.1" fill="#fff" stroke="#3A3AA0" stroke-width="0.75"/>
<circle cx="416.00" cy="155.00" r="2.1" fill="#fff" stroke="#3A3AA0" stroke-width="0.75"/>
<circle cx="419.20" cy="155.00" r="2.1" fill="#fff" stroke="#3A3AA0" stroke-width="0.75"/>
<circle cx="422.40" cy="155.00" r="2.1" fill="#fff" stroke="#3A3AA0" stroke-width="0.75"/>
<circle cx="425.60" cy="155.00" r="2.1" fill="#fff" stroke="#3A3AA0" stroke-width="0.75"/>
<circle cx="428.80" cy="155.00" r="2.1" fill="#fff" stroke="#3A3AA0" stroke-width="0.75"/>
<circle cx="432.00" cy="155.00" r="2.1" fill="#fff" stroke="#3A3AA0" stroke-width="0.75"/>
<circle cx="435.20" cy="155.00" r="2.1" fill="#fff" stroke="#3A3AA0" stroke-width="0.75"/>
<circle cx="438.40" cy="155.00" r="2.1" fill="#fff" stroke="#3A3AA0" stroke-width="0.75"/>
<circle cx="441.60" cy="155.00" r="2.1" fill="#fff" stroke="#3A3AA0" stroke-width="0.75"/>
<circle cx="444.80" cy="155.00" r="2.1" fill="#fff" stroke="#3A3AA0" stroke-width="0.75"/>
<text x="304.60" y="55.90" font-size="11" text-anchor="start" fill="#EE8A3A" font-weight="normal" style='font-family:"Liberation Sans", sans-serif' >CTAC-capped</text>
<text x="281.50" y="103.70" font-size="11" text-anchor="start" fill="#1E9AF0" font-weight="normal" style='font-family:"Liberation Sans", sans-serif' >PVP-capped</text>
<text x="343.50" y="150.20" font-size="11" text-anchor="start" fill="#2B2A98" font-weight="normal" style='font-family:"Liberation Sans", sans-serif' >SDS-capped</text>
<text x="461.60" y="30.00" font-size="16" text-anchor="start" fill="#000" font-weight="bold" style='font-family:"Liberation Sans", sans-serif' >c</text>
<defs><pattern id="hb" patternUnits="userSpaceOnUse" width="3.8" height="3.8"><rect width="3.8" height="3.8" fill="#fff"/><path d="M-1,-1 L4.8,4.8 M4.8,-1 L-1,4.8" stroke="#2AA2F0" stroke-width="0.7"/></pattern><pattern id="ho" patternUnits="userSpaceOnUse" width="3.8" height="3.8"><rect width="3.8" height="3.8" fill="#fff"/><path d="M-1,-1 L4.8,4.8 M4.8,-1 L-1,4.8" stroke="#F5AA30" stroke-width="0.7"/></pattern></defs>
<rect x="522.30" y="32.37" width="21.4" height="130.93" fill="url(#hb)" stroke="#1E9BF0" stroke-width="1"/>
<rect x="582.90" y="31.44" width="21.4" height="46.36" fill="url(#ho)" stroke="#F5A623" stroke-width="1"/>
<rect x="582.90" y="77.80" width="21.4" height="85.50" fill="url(#hb)" stroke="#1E9BF0" stroke-width="1"/>
<rect x="643.50" y="30.37" width="21.4" height="62.12" fill="url(#ho)" stroke="#F5A623" stroke-width="1"/>
<rect x="643.50" y="92.49" width="21.4" height="70.81" fill="url(#hb)" stroke="#1E9BF0" stroke-width="1"/>
<rect x="502.6" y="16.4" width="181.69999999999993" height="146.9" fill="none" stroke="#1a1a1a" stroke-width="1.1"/>
<line x1="499.60" y1="163.30" x2="502.60" y2="163.30" stroke="#1a1a1a" stroke-width="1.0" />
<text x="498.60" y="167.70" font-size="12.4" text-anchor="end" fill="#050505" font-weight="normal" style='font-family:"Liberation Sans", sans-serif' >0</text>
<line x1="500.80" y1="149.94" x2="502.60" y2="149.94" stroke="#1a1a1a" stroke-width="1.0" />
<line x1="499.60" y1="136.58" x2="502.60" y2="136.58" stroke="#1a1a1a" stroke-width="1.0" />
<text x="498.60" y="140.98" font-size="12.4" text-anchor="end" fill="#050505" font-weight="normal" style='font-family:"Liberation Sans", sans-serif' >20</text>
<line x1="500.80" y1="123.22" x2="502.60" y2="123.22" stroke="#1a1a1a" stroke-width="1.0" />
<line x1="499.60" y1="109.86" x2="502.60" y2="109.86" stroke="#1a1a1a" stroke-width="1.0" />
<text x="498.60" y="114.26" font-size="12.4" text-anchor="end" fill="#050505" font-weight="normal" style='font-family:"Liberation Sans", sans-serif' >40</text>
<line x1="500.80" y1="96.50" x2="502.60" y2="96.50" stroke="#1a1a1a" stroke-width="1.0" />
<line x1="499.60" y1="83.14" x2="502.60" y2="83.14" stroke="#1a1a1a" stroke-width="1.0" />
<text x="498.60" y="87.54" font-size="12.4" text-anchor="end" fill="#050505" font-weight="normal" style='font-family:"Liberation Sans", sans-serif' >60</text>
<line x1="500.80" y1="69.78" x2="502.60" y2="69.78" stroke="#1a1a1a" stroke-width="1.0" />
<line x1="499.60" y1="56.42" x2="502.60" y2="56.42" stroke="#1a1a1a" stroke-width="1.0" />
<text x="498.60" y="60.82" font-size="12.4" text-anchor="end" fill="#050505" font-weight="normal" style='font-family:"Liberation Sans", sans-serif' >80</text>
<line x1="500.80" y1="43.06" x2="502.60" y2="43.06" stroke="#1a1a1a" stroke-width="1.0" />
<line x1="499.60" y1="29.70" x2="502.60" y2="29.70" stroke="#1a1a1a" stroke-width="1.0" />
<text x="498.60" y="34.10" font-size="12.4" text-anchor="end" fill="#050505" font-weight="normal" style='font-family:"Liberation Sans", sans-serif' >100</text>
<line x1="500.80" y1="16.34" x2="502.60" y2="16.34" stroke="#1a1a1a" stroke-width="1.0" />
<line x1="533.00" y1="163.30" x2="533.00" y2="165.80" stroke="#1a1a1a" stroke-width="1.0" />
<line x1="593.60" y1="163.30" x2="593.60" y2="165.80" stroke="#1a1a1a" stroke-width="1.0" />
<line x1="654.20" y1="163.30" x2="654.20" y2="165.80" stroke="#1a1a1a" stroke-width="1.0" />
<text x="533.00" y="178.00" font-size="12.4" text-anchor="middle" fill="#050505" font-weight="normal" style='font-family:"Liberation Sans", sans-serif' >CTAC</text>
<text x="593.60" y="178.00" font-size="12.4" text-anchor="middle" fill="#050505" font-weight="normal" style='font-family:"Liberation Sans", sans-serif' >PVP</text>
<text x="654.20" y="178.00" font-size="12.4" text-anchor="middle" fill="#050505" font-weight="normal" style='font-family:"Liberation Sans", sans-serif' >SDS</text>
<text x="593.40" y="192.80" font-size="12.4" text-anchor="middle" fill="#050505" font-weight="normal" style='font-family:"Liberation Sans", sans-serif' >Capping agent</text>
<text x="0" y="0" font-size="12.4" fill="#111" text-anchor="middle" style='font-family:"Liberation Sans", sans-serif' transform="translate(478.3,90.1) rotate(-90)">FE (%)</text>
<rect x="545.2" y="19.5" width="17.6" height="8.2" fill="url(#ho)" stroke="#F5A623" stroke-width="1"/>
<text x="566.5" y="27.6" font-size="11.5" fill="#050505" style='font-family:"Liberation Sans", sans-serif'>H<tspan font-size="8" dy="3">2</tspan></text>
<rect x="606.3" y="19.3" width="17.6" height="8.4" fill="url(#hb)" stroke="#1E9BF0" stroke-width="1"/>
<text x="627.60" y="27.90" font-size="11.5" text-anchor="start" fill="#050505" font-weight="normal" style='font-family:"Liberation Sans", sans-serif' >CO</text>
<text x="12.60" y="209.80" font-size="16" text-anchor="start" fill="#000" font-weight="bold" style='font-family:"Liberation Sans", sans-serif' >d</text>
<defs><pattern id="g0" patternUnits="userSpaceOnUse" x="49.50" y="0" width="3.08" height="3.08"><rect width="3.08" height="3.08" fill="#fff"/><path d="M0,0.5 L3.08,0.5 M0.5,0 L0.5,3.08" stroke="#8E8E8E" stroke-width="1.0"/></pattern><pattern id="g1" patternUnits="userSpaceOnUse" x="80.00" y="0" width="3.08" height="3.08"><rect width="3.08" height="3.08" fill="#fff"/><path d="M0,0.5 L3.08,0.5 M0.5,0 L0.5,3.08" stroke="#2F6AD2" stroke-width="1.0"/></pattern><pattern id="g2" patternUnits="userSpaceOnUse" x="110.05" y="0" width="3.08" height="3.08"><rect width="3.08" height="3.08" fill="#fff"/><path d="M0,0.5 L3.08,0.5 M0.5,0 L0.5,3.08" stroke="#22A3EE" stroke-width="1.0"/></pattern><pattern id="g3" patternUnits="userSpaceOnUse" x="140.20" y="0" width="3.08" height="3.08"><rect width="3.08" height="3.08" fill="#fff"/><path d="M0,0.5 L3.08,0.5 M0.5,0 L0.5,3.08" stroke="#F5A623" stroke-width="1.0"/></pattern><pattern id="g4" patternUnits="userSpaceOnUse" x="170.85" y="0" width="3.08" height="3.08"><rect width="3.08" height="3.08" fill="#fff"/><path d="M0,0.5 L3.08,0.5 M0.5,0 L0.5,3.08" stroke="#C48FE8" stroke-width="1.0"/></pattern><pattern id="g5" patternUnits="userSpaceOnUse" x="201.10" y="0" width="3.08" height="3.08"><rect width="3.08" height="3.08" fill="#fff"/><path d="M0,0.5 L3.08,0.5 M0.5,0 L0.5,3.08" stroke="#D8337F" stroke-width="1.0"/></pattern></defs>
<rect x="49.50" y="226.41" width="19.0" height="75.99" fill="url(#g0)"/>
<path d="M49.50,302.40 L49.50,226.41 L68.50,226.41 L68.50,302.40" fill="none" stroke="#7A7A7A" stroke-width="1"/>
<rect x="49.50" y="305.00" width="19.0" height="57.20" fill="url(#g0)"/>
<path d="M49.50,362.20 L49.50,305.00 L68.50,305.00 L68.50,362.20" fill="none" stroke="#7A7A7A" stroke-width="1"/>
<rect x="80.00" y="284.20" width="19.0" height="18.20" fill="url(#g1)"/>
<path d="M80.00,302.40 L80.00,284.20 L99.00,284.20 L99.00,302.40" fill="none" stroke="#2A5FC0" stroke-width="1"/>
<rect x="80.00" y="305.00" width="19.0" height="57.20" fill="url(#g1)"/>
<path d="M80.00,362.20 L80.00,305.00 L99.00,305.00 L99.00,362.20" fill="none" stroke="#2A5FC0" stroke-width="1"/>
<rect x="110.05" y="292.29" width="19.0" height="10.11" fill="url(#g2)"/>
<path d="M110.05,302.40 L110.05,292.29 L129.05,292.29 L129.05,302.40" fill="none" stroke="#1A95DA" stroke-width="1"/>
<rect x="110.05" y="305.00" width="19.0" height="57.20" fill="url(#g2)"/>
<path d="M110.05,362.20 L110.05,305.00 L129.05,305.00 L129.05,362.20" fill="none" stroke="#1A95DA" stroke-width="1"/>
<rect x="140.20" y="324.30" width="19.0" height="37.90" fill="url(#g3)" stroke="#E0961A" stroke-width="1"/>
<rect x="170.85" y="358.03" width="19.0" height="4.17" fill="url(#g4)" stroke="#A878D0" stroke-width="1"/>
<rect x="201.10" y="360.12" width="19.0" height="2.08" fill="url(#g5)" stroke="#B8206A" stroke-width="1"/>
<path d="M43.6,301.5 L43.6,215.0 L225.4,215.0 L225.4,301.5" fill="none" stroke="#1a1a1a" stroke-width="1.1"/>
<path d="M43.6,305.0 L43.6,362.2 L225.4,362.2 L225.4,305.0" fill="none" stroke="#1a1a1a" stroke-width="1.1"/>
<path d="M42.1,303.4 L45.1,301.0 M42.1,305.2 L45.1,302.8" stroke="#1a1a1a" stroke-width="0.9"/>
<path d="M223.9,303.4 L226.9,301.0 M223.9,305.2 L226.9,302.8" stroke="#1a1a1a" stroke-width="0.9"/>
<line x1="41.00" y1="215.00" x2="43.60" y2="215.00" stroke="#1a1a1a" stroke-width="1.0" />
<text x="39.50" y="219.30" font-size="12.2" text-anchor="end" fill="#050505" font-weight="normal" style='font-family:"Liberation Sans", sans-serif' >1.0</text>
<line x1="41.00" y1="232.97" x2="43.60" y2="232.97" stroke="#1a1a1a" stroke-width="1.0" />
<text x="39.50" y="237.28" font-size="12.2" text-anchor="end" fill="#050505" font-weight="normal" style='font-family:"Liberation Sans", sans-serif' >0.8</text>
<line x1="41.00" y1="250.95" x2="43.60" y2="250.95" stroke="#1a1a1a" stroke-width="1.0" />
<text x="39.50" y="255.25" font-size="12.2" text-anchor="end" fill="#050505" font-weight="normal" style='font-family:"Liberation Sans", sans-serif' >0.6</text>
<line x1="41.00" y1="268.92" x2="43.60" y2="268.92" stroke="#1a1a1a" stroke-width="1.0" />
<text x="39.50" y="273.22" font-size="12.2" text-anchor="end" fill="#050505" font-weight="normal" style='font-family:"Liberation Sans", sans-serif' >0.4</text>
<line x1="41.00" y1="286.90" x2="43.60" y2="286.90" stroke="#1a1a1a" stroke-width="1.0" />
<text x="39.50" y="291.20" font-size="12.2" text-anchor="end" fill="#050505" font-weight="normal" style='font-family:"Liberation Sans", sans-serif' >0.2</text>
<line x1="42.00" y1="223.99" x2="43.60" y2="223.99" stroke="#1a1a1a" stroke-width="1.0" />
<line x1="42.00" y1="241.96" x2="43.60" y2="241.96" stroke="#1a1a1a" stroke-width="1.0" />
<line x1="42.00" y1="259.94" x2="43.60" y2="259.94" stroke="#1a1a1a" stroke-width="1.0" />
<line x1="42.00" y1="277.91" x2="43.60" y2="277.91" stroke="#1a1a1a" stroke-width="1.0" />
<line x1="42.00" y1="295.89" x2="43.60" y2="295.89" stroke="#1a1a1a" stroke-width="1.0" />
<line x1="41.00" y1="362.20" x2="43.60" y2="362.20" stroke="#1a1a1a" stroke-width="1.0" />
<text x="39.50" y="366.50" font-size="12.2" text-anchor="end" fill="#050505" font-weight="normal" style='font-family:"Liberation Sans", sans-serif' >0.00</text>
<line x1="41.00" y1="343.25" x2="43.60" y2="343.25" stroke="#1a1a1a" stroke-width="1.0" />
<text x="39.50" y="347.55" font-size="12.2" text-anchor="end" fill="#050505" font-weight="normal" style='font-family:"Liberation Sans", sans-serif' >0.01</text>
<line x1="41.00" y1="324.30" x2="43.60" y2="324.30" stroke="#1a1a1a" stroke-width="1.0" />
<text x="39.50" y="328.60" font-size="12.2" text-anchor="end" fill="#050505" font-weight="normal" style='font-family:"Liberation Sans", sans-serif' >0.02</text>
<line x1="42.00" y1="352.73" x2="43.60" y2="352.73" stroke="#1a1a1a" stroke-width="1.0" />
<line x1="42.00" y1="333.77" x2="43.60" y2="333.77" stroke="#1a1a1a" stroke-width="1.0" />
<line x1="42.00" y1="314.83" x2="43.60" y2="314.83" stroke="#1a1a1a" stroke-width="1.0" />
<line x1="59.00" y1="362.20" x2="59.00" y2="364.70" stroke="#1a1a1a" stroke-width="1.0" />
<text x="59.00" y="374.60" font-size="11.2" text-anchor="middle" fill="#050505" font-weight="normal" style='font-family:"Liberation Sans", sans-serif' >-100</text>
<line x1="89.50" y1="362.20" x2="89.50" y2="364.70" stroke="#1a1a1a" stroke-width="1.0" />
<text x="89.50" y="374.60" font-size="11.2" text-anchor="middle" fill="#050505" font-weight="normal" style='font-family:"Liberation Sans", sans-serif' >0</text>
<line x1="119.55" y1="362.20" x2="119.55" y2="364.70" stroke="#1a1a1a" stroke-width="1.0" />
<text x="119.55" y="374.60" font-size="11.2" text-anchor="middle" fill="#050505" font-weight="normal" style='font-family:"Liberation Sans", sans-serif' >100</text>
<line x1="149.70" y1="362.20" x2="149.70" y2="364.70" stroke="#1a1a1a" stroke-width="1.0" />
<text x="149.70" y="374.60" font-size="11.2" text-anchor="middle" fill="#050505" font-weight="normal" style='font-family:"Liberation Sans", sans-serif' >1000</text>
<line x1="180.35" y1="362.20" x2="180.35" y2="364.70" stroke="#1a1a1a" stroke-width="1.0" />
<text x="179.40" y="374.60" font-size="10.4" text-anchor="middle" fill="#050505" font-weight="normal" style='font-family:"Liberation Sans", sans-serif' >10000</text>
<line x1="210.60" y1="362.20" x2="210.60" y2="364.70" stroke="#1a1a1a" stroke-width="1.0" />
<text x="211.10" y="374.60" font-size="10.4" text-anchor="middle" fill="#050505" font-weight="normal" style='font-family:"Liberation Sans", sans-serif' >20014</text>
<text x="106.5" y="390.5" font-size="12.4" fill="#050505" style='font-family:"Liberation Sans", sans-serif'><tspan font-style="italic">ρ</tspan> (C cm<tspan font-size="8.6" dy="-5.5">-3</tspan><tspan dy="5.5">)</tspan></text>
<text x="0" y="0" font-size="12.4" fill="#111" text-anchor="middle" style='font-family:"Liberation Sans", sans-serif' transform="translate(10.9,289) rotate(-90)">Diffusion flux (μmol cm<tspan font-size="8.6" dy="-5.5">-2</tspan><tspan dy="5.5"> s</tspan><tspan font-size="8.6" dy="-5.5">-1</tspan><tspan dy="5.5">)</tspan></text>
<text x="238.40" y="210.20" font-size="16" text-anchor="start" fill="#000" font-weight="bold" style='font-family:"Liberation Sans", sans-serif' >e</text>
<rect x="267.2" y="215.0" width="182.10000000000002" height="147.2" fill="none" stroke="#1a1a1a" stroke-width="1.1"/>
<line x1="264.40" y1="362.20" x2="267.20" y2="362.20" stroke="#1a1a1a" stroke-width="1.0" />
<text x="263.00" y="366.60" font-size="12.4" text-anchor="end" fill="#050505" font-weight="normal" style='font-family:"Liberation Sans", sans-serif' >-2</text>
<line x1="265.60" y1="349.93" x2="267.20" y2="349.93" stroke="#1a1a1a" stroke-width="1.0" />
<line x1="264.40" y1="337.67" x2="267.20" y2="337.67" stroke="#1a1a1a" stroke-width="1.0" />
<text x="263.00" y="342.07" font-size="12.4" text-anchor="end" fill="#050505" font-weight="normal" style='font-family:"Liberation Sans", sans-serif' >0</text>
<line x1="265.60" y1="325.40" x2="267.20" y2="325.40" stroke="#1a1a1a" stroke-width="1.0" />
<line x1="264.40" y1="313.13" x2="267.20" y2="313.13" stroke="#1a1a1a" stroke-width="1.0" />
<text x="263.00" y="317.53" font-size="12.4" text-anchor="end" fill="#050505" font-weight="normal" style='font-family:"Liberation Sans", sans-serif' >2</text>
<line x1="265.60" y1="300.87" x2="267.20" y2="300.87" stroke="#1a1a1a" stroke-width="1.0" />
<line x1="264.40" y1="288.60" x2="267.20" y2="288.60" stroke="#1a1a1a" stroke-width="1.0" />
<text x="263.00" y="293.00" font-size="12.4" text-anchor="end" fill="#050505" font-weight="normal" style='font-family:"Liberation Sans", sans-serif' >4</text>
<line x1="265.60" y1="276.33" x2="267.20" y2="276.33" stroke="#1a1a1a" stroke-width="1.0" />
<line x1="264.40" y1="264.07" x2="267.20" y2="264.07" stroke="#1a1a1a" stroke-width="1.0" />
<text x="263.00" y="268.47" font-size="12.4" text-anchor="end" fill="#050505" font-weight="normal" style='font-family:"Liberation Sans", sans-serif' >6</text>
<line x1="265.60" y1="251.80" x2="267.20" y2="251.80" stroke="#1a1a1a" stroke-width="1.0" />
<line x1="264.40" y1="239.53" x2="267.20" y2="239.53" stroke="#1a1a1a" stroke-width="1.0" />
<text x="263.00" y="243.93" font-size="12.4" text-anchor="end" fill="#050505" font-weight="normal" style='font-family:"Liberation Sans", sans-serif' >8</text>
<line x1="265.60" y1="227.27" x2="267.20" y2="227.27" stroke="#1a1a1a" stroke-width="1.0" />
<line x1="264.40" y1="215.00" x2="267.20" y2="215.00" stroke="#1a1a1a" stroke-width="1.0" />
<text x="263.00" y="219.40" font-size="12.4" text-anchor="end" fill="#050505" font-weight="normal" style='font-family:"Liberation Sans", sans-serif' >10</text>
<line x1="267.20" y1="362.20" x2="267.20" y2="364.80" stroke="#1a1a1a" stroke-width="1.0" />
<line x1="276.34" y1="362.20" x2="276.34" y2="363.70" stroke="#1a1a1a" stroke-width="0.8" />
<line x1="281.68" y1="362.20" x2="281.68" y2="363.70" stroke="#1a1a1a" stroke-width="0.8" />
<line x1="285.47" y1="362.20" x2="285.47" y2="363.70" stroke="#1a1a1a" stroke-width="0.8" />
<line x1="288.41" y1="362.20" x2="288.41" y2="363.70" stroke="#1a1a1a" stroke-width="0.8" />
<line x1="290.82" y1="362.20" x2="290.82" y2="363.70" stroke="#1a1a1a" stroke-width="0.8" />
<line x1="292.85" y1="362.20" x2="292.85" y2="363.70" stroke="#1a1a1a" stroke-width="0.8" />
<line x1="294.61" y1="362.20" x2="294.61" y2="363.70" stroke="#1a1a1a" stroke-width="0.8" />
<line x1="296.16" y1="362.20" x2="296.16" y2="363.70" stroke="#1a1a1a" stroke-width="0.8" />
<line x1="297.55" y1="362.20" x2="297.55" y2="364.80" stroke="#1a1a1a" stroke-width="1.0" />
<line x1="306.69" y1="362.20" x2="306.69" y2="363.70" stroke="#1a1a1a" stroke-width="0.8" />
<line x1="312.03" y1="362.20" x2="312.03" y2="363.70" stroke="#1a1a1a" stroke-width="0.8" />
<line x1="315.82" y1="362.20" x2="315.82" y2="363.70" stroke="#1a1a1a" stroke-width="0.8" />
<line x1="318.76" y1="362.20" x2="318.76" y2="363.70" stroke="#1a1a1a" stroke-width="0.8" />
<line x1="321.17" y1="362.20" x2="321.17" y2="363.70" stroke="#1a1a1a" stroke-width="0.8" />
<line x1="323.20" y1="362.20" x2="323.20" y2="363.70" stroke="#1a1a1a" stroke-width="0.8" />
<line x1="324.96" y1="362.20" x2="324.96" y2="363.70" stroke="#1a1a1a" stroke-width="0.8" />
<line x1="326.51" y1="362.20" x2="326.51" y2="363.70" stroke="#1a1a1a" stroke-width="0.8" />
<line x1="327.90" y1="362.20" x2="327.90" y2="364.80" stroke="#1a1a1a" stroke-width="1.0" />
<line x1="337.04" y1="362.20" x2="337.04" y2="363.70" stroke="#1a1a1a" stroke-width="0.8" />
<line x1="342.38" y1="362.20" x2="342.38" y2="363.70" stroke="#1a1a1a" stroke-width="0.8" />
<line x1="346.17" y1="362.20" x2="346.17" y2="363.70" stroke="#1a1a1a" stroke-width="0.8" />
<line x1="349.11" y1="362.20" x2="349.11" y2="363.70" stroke="#1a1a1a" stroke-width="0.8" />
<line x1="351.52" y1="362.20" x2="351.52" y2="363.70" stroke="#1a1a1a" stroke-width="0.8" />
<line x1="353.55" y1="362.20" x2="353.55" y2="363.70" stroke="#1a1a1a" stroke-width="0.8" />
<line x1="355.31" y1="362.20" x2="355.31" y2="363.70" stroke="#1a1a1a" stroke-width="0.8" />
<line x1="356.86" y1="362.20" x2="356.86" y2="363.70" stroke="#1a1a1a" stroke-width="0.8" />
<line x1="358.25" y1="362.20" x2="358.25" y2="364.80" stroke="#1a1a1a" stroke-width="1.0" />
<line x1="367.39" y1="362.20" x2="367.39" y2="363.70" stroke="#1a1a1a" stroke-width="0.8" />
<line x1="372.73" y1="362.20" x2="372.73" y2="363.70" stroke="#1a1a1a" stroke-width="0.8" />
<line x1="376.52" y1="362.20" x2="376.52" y2="363.70" stroke="#1a1a1a" stroke-width="0.8" />
<line x1="379.46" y1="362.20" x2="379.46" y2="363.70" stroke="#1a1a1a" stroke-width="0.8" />
<line x1="381.87" y1="362.20" x2="381.87" y2="363.70" stroke="#1a1a1a" stroke-width="0.8" />
<line x1="383.90" y1="362.20" x2="383.90" y2="363.70" stroke="#1a1a1a" stroke-width="0.8" />
<line x1="385.66" y1="362.20" x2="385.66" y2="363.70" stroke="#1a1a1a" stroke-width="0.8" />
<line x1="387.21" y1="362.20" x2="387.21" y2="363.70" stroke="#1a1a1a" stroke-width="0.8" />
<line x1="388.60" y1="362.20" x2="388.60" y2="364.80" stroke="#1a1a1a" stroke-width="1.0" />
<line x1="397.74" y1="362.20" x2="397.74" y2="363.70" stroke="#1a1a1a" stroke-width="0.8" />
<line x1="403.08" y1="362.20" x2="403.08" y2="363.70" stroke="#1a1a1a" stroke-width="0.8" />
<line x1="406.87" y1="362.20" x2="406.87" y2="363.70" stroke="#1a1a1a" stroke-width="0.8" />
<line x1="409.81" y1="362.20" x2="409.81" y2="363.70" stroke="#1a1a1a" stroke-width="0.8" />
<line x1="412.22" y1="362.20" x2="412.22" y2="363.70" stroke="#1a1a1a" stroke-width="0.8" />
<line x1="414.25" y1="362.20" x2="414.25" y2="363.70" stroke="#1a1a1a" stroke-width="0.8" />
<line x1="416.01" y1="362.20" x2="416.01" y2="363.70" stroke="#1a1a1a" stroke-width="0.8" />
<line x1="417.56" y1="362.20" x2="417.56" y2="363.70" stroke="#1a1a1a" stroke-width="0.8" />
<line x1="418.95" y1="362.20" x2="418.95" y2="364.80" stroke="#1a1a1a" stroke-width="1.0" />
<line x1="428.09" y1="362.20" x2="428.09" y2="363.70" stroke="#1a1a1a" stroke-width="0.8" />
<line x1="433.43" y1="362.20" x2="433.43" y2="363.70" stroke="#1a1a1a" stroke-width="0.8" />
<line x1="437.22" y1="362.20" x2="437.22" y2="363.70" stroke="#1a1a1a" stroke-width="0.8" />
<line x1="440.16" y1="362.20" x2="440.16" y2="363.70" stroke="#1a1a1a" stroke-width="0.8" />
<line x1="442.57" y1="362.20" x2="442.57" y2="363.70" stroke="#1a1a1a" stroke-width="0.8" />
<line x1="444.60" y1="362.20" x2="444.60" y2="363.70" stroke="#1a1a1a" stroke-width="0.8" />
<line x1="446.36" y1="362.20" x2="446.36" y2="363.70" stroke="#1a1a1a" stroke-width="0.8" />
<line x1="447.91" y1="362.20" x2="447.91" y2="363.70" stroke="#1a1a1a" stroke-width="0.8" />
<line x1="449.30" y1="362.20" x2="449.30" y2="364.80" stroke="#1a1a1a" stroke-width="1.0" />
<text x="256.6" y="377.2" font-size="12.4" fill="#050505" style='font-family:"Liberation Sans", sans-serif'>10<tspan font-size="8.5" dy="-5">-4</tspan></text>
<text x="286.8" y="377.2" font-size="12.4" fill="#050505" style='font-family:"Liberation Sans", sans-serif'>10<tspan font-size="8.5" dy="-5">-3</tspan></text>
<text x="327.90" y="377.20" font-size="12.4" text-anchor="middle" fill="#050505" font-weight="normal" style='font-family:"Liberation Sans", sans-serif' >0.01</text>
<text x="358.25" y="377.20" font-size="12.4" text-anchor="middle" fill="#050505" font-weight="normal" style='font-family:"Liberation Sans", sans-serif' >0.1</text>
<text x="388.60" y="377.20" font-size="12.4" text-anchor="middle" fill="#050505" font-weight="normal" style='font-family:"Liberation Sans", sans-serif' >1</text>
<text x="418.95" y="377.20" font-size="12.4" text-anchor="middle" fill="#050505" font-weight="normal" style='font-family:"Liberation Sans", sans-serif' >10</text>
<text x="449.30" y="377.20" font-size="12.4" text-anchor="middle" fill="#050505" font-weight="normal" style='font-family:"Liberation Sans", sans-serif' >100</text>
<text x="362.50" y="391.10" font-size="12.5" text-anchor="middle" fill="#050505" font-weight="normal" style='font-family:"Liberation Sans", sans-serif' >Distance (μm)</text>
<text x="0" y="0" font-size="12.4" fill="#111" text-anchor="middle" style='font-family:"Liberation Sans", sans-serif' transform="translate(247.0,285.8) rotate(-90)">pH</text>
<path d="M267.20,260.02 L267.80,258.48 L268.40,256.94 L269.00,255.41 L269.60,253.88 L270.20,252.34 L270.80,250.81 L271.40,249.27 L272.00,247.73 L272.60,246.19 L273.20,244.64 L273.80,243.09 L274.40,241.52 L275.00,239.87 L275.61,238.16 L276.21,236.45 L276.81,234.77 L277.41,233.17 L278.01,231.70 L278.61,230.40 L279.21,229.29 L279.81,228.36 L280.41,227.59 L281.01,226.97 L281.61,226.50 L282.21,226.16 L282.81,225.95 L283.41,225.88 L284.01,225.92 L284.61,226.07 L285.21,226.31 L285.81,226.61 L286.41,226.95 L287.01,227.32 L287.61,227.75 L288.21,228.25 L288.81,228.80 L289.41,229.40 L290.01,230.03 L290.61,230.67 L291.21,231.31 L291.82,231.93 L292.42,232.56 L293.02,233.21 L293.62,233.86 L294.22,234.53 L294.82,235.20 L295.42,235.87 L296.02,236.55 L296.62,237.22 L297.22,237.89 L297.82,238.55 L298.42,239.20 L299.02,239.84 L299.62,240.46 L300.22,241.06 L300.82,241.65 L301.42,242.21 L302.02,242.73 L302.62,243.22 L303.22,243.66 L303.82,244.07 L304.42,244.45 L305.02,244.80 L305.62,245.13 L306.22,245.45 L306.82,245.74 L307.42,246.03 L308.03,246.32 L308.63,246.60 L309.23,246.87 L309.83,247.14 L310.43,247.41 L311.03,247.68 L311.63,247.94 L312.23,248.20 L312.83,248.45 L313.43,248.71 L314.03,248.96 L314.63,249.21 L315.23,249.46 L315.83,249.70 L316.43,249.95 L317.03,250.20 L317.63,250.44 L318.23,250.68 L318.83,250.93 L319.43,251.17 L320.03,251.41 L320.63,251.66 L321.23,251.90 L321.83,252.15 L322.43,252.39 L323.03,252.64 L323.63,252.89 L324.23,253.14 L324.84,253.39 L325.44,253.65 L326.04,253.91 L326.64,254.17 L327.24,254.43 L327.84,254.69 L328.44,254.95 L329.04,255.22 L329.64,255.48 L330.24,255.75 L330.84,256.01 L331.44,256.28 L332.04,256.55 L332.64,256.81 L333.24,257.08 L333.84,257.35 L334.44,257.62 L335.04,257.89 L335.64,258.16 L336.24,258.42 L336.84,258.69 L337.44,258.96 L338.04,259.22 L338.64,259.49 L339.24,259.75 L339.84,260.02 L340.44,260.28 L341.05,260.54 L341.65,260.80 L342.25,261.06 L342.85,261.32 L343.45,261.58 L344.05,261.83 L344.65,262.08 L345.25,262.34 L345.85,262.59 L346.45,262.84 L347.05,263.09 L347.65,263.34 L348.25,263.59 L348.85,263.84 L349.45,264.09 L350.05,264.34 L350.65,264.59 L351.25,264.84 L351.85,265.09 L352.45,265.34 L353.05,265.59 L353.65,265.84 L354.25,266.09 L354.85,266.34 L355.45,266.59 L356.05,266.84 L356.65,267.09 L357.26,267.34 L357.86,267.59 L358.46,267.84 L359.06,268.09 L359.66,268.34 L360.26,268.58 L360.86,268.83 L361.46,269.08 L362.06,269.33 L362.66,269.58 L363.26,269.83 L363.86,270.08 L364.46,270.33 L365.06,270.58 L365.66,270.82 L366.26,271.07 L366.86,271.32 L367.46,271.57 L368.06,271.82 L368.66,272.07 L369.26,272.32 L369.86,272.56 L370.46,272.81 L371.06,273.06 L371.66,273.31 L372.26,273.56 L372.86,273.80 L373.47,274.05 L374.07,274.30 L374.67,274.55 L375.27,274.80 L375.87,275.04 L376.47,275.29 L377.07,275.54 L377.67,275.79 L378.27,276.04 L378.87,276.28 L379.47,276.53 L380.07,276.78 L380.67,277.03 L381.27,277.27 L381.87,277.52 L382.47,277.77 L383.07,278.02 L383.67,278.26 L384.27,278.51 L384.87,278.76 L385.47,279.01 L386.07,279.25 L386.67,279.50 L387.27,279.75 L387.87,280.00 L388.47,280.24 L389.07,280.49 L389.68,280.74 L390.28,280.99 L390.88,281.23 L391.48,281.48 L392.08,281.73 L392.68,281.97 L393.28,282.22 L393.88,282.47 L394.48,282.72 L395.08,282.96 L395.68,283.21 L396.28,283.46 L396.88,283.70 L397.48,283.95 L398.08,284.20 L398.68,284.45 L399.28,284.69 L399.88,284.94 L400.48,285.19 L401.08,285.43 L401.68,285.68 L402.28,285.93 L402.88,286.18 L403.48,286.42 L404.08,286.67 L404.68,286.92 L405.28,287.16 L405.88,287.41 L406.49,287.66 L407.09,287.91 L407.69,288.15 L408.29,288.40 L408.89,288.65 L409.49,288.89 L410.09,289.14 L410.69,289.39 L411.29,289.64 L411.89,289.88 L412.49,290.13 L413.09,290.38 L413.69,290.63 L414.29,290.87 L414.89,291.12 L415.49,291.37 L416.09,291.61 L416.69,291.86 L417.29,292.11 L417.89,292.36 L418.49,292.60 L419.09,292.85 L419.69,293.10 L420.29,293.35 L420.89,293.59 L421.49,293.84 L422.09,294.09 L422.70,294.34 L423.30,294.59 L423.90,294.83 L424.50,295.08 L425.10,295.33 L425.70,295.58 L426.30,295.82 L426.90,296.07 L427.50,296.32 L428.10,296.57 L428.70,296.82 L429.30,297.06 L429.30,322.00 L449.30,325.30" stroke="#7A7A7A" stroke-width="1.15" fill="none" stroke-linejoin="round" />
<path d="M267.20,280.01 L267.80,278.76 L268.40,277.51 L269.00,276.25 L269.60,274.98 L270.20,273.72 L270.80,272.51 L271.40,271.31 L272.00,270.09 L272.60,268.83 L273.20,267.48 L273.80,266.03 L274.40,264.45 L275.00,262.81 L275.61,261.11 L276.21,259.37 L276.81,257.59 L277.41,255.77 L278.01,253.92 L278.61,252.04 L279.21,250.15 L279.81,248.24 L280.41,246.30 L281.01,244.16 L281.61,241.86 L282.21,239.53 L282.81,237.29 L283.41,235.24 L284.01,233.51 L284.61,232.21 L285.21,231.31 L285.81,230.74 L286.41,230.40 L287.01,230.23 L287.61,230.16 L288.21,230.22 L288.81,230.38 L289.41,230.62 L290.01,230.94 L290.61,231.32 L291.21,231.74 L291.82,232.19 L292.42,232.74 L293.02,233.37 L293.62,234.06 L294.22,234.79 L294.82,235.53 L295.42,236.26 L296.02,236.99 L296.62,237.74 L297.22,238.51 L297.82,239.30 L298.42,240.08 L299.02,240.86 L299.62,241.63 L300.22,242.37 L300.82,243.09 L301.42,243.77 L302.02,244.41 L302.62,245.03 L303.22,245.61 L303.82,246.15 L304.42,246.65 L305.02,247.10 L305.62,247.49 L306.22,247.81 L306.82,248.10 L307.42,248.39 L308.03,248.67 L308.63,248.94 L309.23,249.21 L309.83,249.48 L310.43,249.73 L311.03,249.99 L311.63,250.24 L312.23,250.48 L312.83,250.73 L313.43,250.97 L314.03,251.20 L314.63,251.44 L315.23,251.67 L315.83,251.91 L316.43,252.14 L317.03,252.37 L317.63,252.60 L318.23,252.84 L318.83,253.07 L319.43,253.31 L320.03,253.54 L320.63,253.78 L321.23,254.03 L321.83,254.27 L322.43,254.52 L323.03,254.77 L323.63,255.03 L324.23,255.30 L324.84,255.56 L325.44,255.84 L326.04,256.12 L326.64,256.40 L327.24,256.70 L327.84,257.00 L328.44,257.30 L329.04,257.61 L329.64,257.93 L330.24,258.25 L330.84,258.57 L331.44,258.90 L332.04,259.23 L332.64,259.56 L333.24,259.90 L333.84,260.23 L334.44,260.57 L335.04,260.91 L335.64,261.24 L336.24,261.58 L336.84,261.91 L337.44,262.24 L338.04,262.57 L338.64,262.90 L339.24,263.22 L339.84,263.54 L340.44,263.86 L341.05,264.16 L341.65,264.47 L342.25,264.76 L342.85,265.06 L343.45,265.34 L344.05,265.61 L344.65,265.88 L345.25,266.14 L345.85,266.40 L346.45,266.66 L347.05,266.91 L347.65,267.17 L348.25,267.43 L348.85,267.68 L349.45,267.94 L350.05,268.19 L350.65,268.45 L351.25,268.70 L351.85,268.96 L352.45,269.21 L353.05,269.47 L353.65,269.72 L354.25,269.97 L354.85,270.22 L355.45,270.48 L356.05,270.73 L356.65,270.98 L357.26,271.23 L357.86,271.48 L358.46,271.74 L359.06,271.99 L359.66,272.24 L360.26,272.49 L360.86,272.74 L361.46,272.99 L362.06,273.24 L362.66,273.49 L363.26,273.73 L363.86,273.98 L364.46,274.23 L365.06,274.48 L365.66,274.73 L366.26,274.98 L366.86,275.22 L367.46,275.47 L368.06,275.72 L368.66,275.97 L369.26,276.21 L369.86,276.46 L370.46,276.71 L371.06,276.95 L371.66,277.20 L372.26,277.44 L372.86,277.69 L373.47,277.93 L374.07,278.18 L374.67,278.42 L375.27,278.67 L375.87,278.91 L376.47,279.16 L377.07,279.40 L377.67,279.65 L378.27,279.89 L378.87,280.14 L379.47,280.38 L380.07,280.62 L380.67,280.87 L381.27,281.11 L381.87,281.35 L382.47,281.60 L383.07,281.84 L383.67,282.08 L384.27,282.33 L384.87,282.57 L385.47,282.81 L386.07,283.05 L386.67,283.30 L387.27,283.54 L387.87,283.78 L388.47,284.02 L389.07,284.26 L389.68,284.51 L390.28,284.75 L390.88,284.99 L391.48,285.23 L392.08,285.47 L392.68,285.72 L393.28,285.96 L393.88,286.20 L394.48,286.44 L395.08,286.68 L395.68,286.92 L396.28,287.16 L396.88,287.41 L397.48,287.65 L398.08,287.89 L398.68,288.13 L399.28,288.37 L399.88,288.61 L400.48,288.85 L401.08,289.09 L401.68,289.34 L402.28,289.58 L402.88,289.82 L403.48,290.06 L404.08,290.30 L404.68,290.54 L405.28,290.78 L405.88,291.02 L406.49,291.27 L407.09,291.51 L407.69,291.75 L408.29,291.99 L408.89,292.23 L409.49,292.47 L410.09,292.72 L410.69,292.96 L411.29,293.20 L411.89,293.44 L412.49,293.68 L413.09,293.92 L413.69,294.17 L414.29,294.41 L414.89,294.65 L415.49,294.89 L416.09,295.14 L416.69,295.38 L417.29,295.62 L417.89,295.86 L418.49,296.11 L419.09,296.35 L419.69,296.59 L420.29,296.83 L420.89,297.08 L421.49,297.32 L422.09,297.57 L422.70,297.81 L423.30,298.05 L423.90,298.30 L424.50,298.54 L425.10,298.78 L425.70,299.03 L426.30,299.27 L426.90,299.52 L427.50,299.76 L428.10,300.01 L428.70,300.25 L429.30,300.50 L429.30,322.00 L449.30,325.30" stroke="#2F6FD0" stroke-width="1.15" fill="none" stroke-linejoin="round" />
<path d="M267.20,341.47 L267.80,341.11 L268.40,340.76 L269.00,340.41 L269.60,340.06 L270.20,339.71 L270.80,339.36 L271.40,339.01 L272.00,338.64 L272.60,338.27 L273.20,337.89 L273.80,337.49 L274.40,337.09 L275.00,336.70 L275.61,336.33 L276.21,335.95 L276.81,335.57 L277.41,335.19 L278.01,334.78 L278.61,334.35 L279.21,333.90 L279.81,333.40 L280.41,332.87 L281.01,332.29 L281.61,331.65 L282.21,330.99 L282.81,330.32 L283.41,329.63 L284.01,328.90 L284.61,328.15 L285.21,327.36 L285.81,326.52 L286.41,325.64 L287.01,324.69 L287.61,323.69 L288.21,322.61 L288.81,321.46 L289.41,320.23 L290.01,318.89 L290.61,317.47 L291.21,315.95 L291.82,314.38 L292.42,312.74 L293.02,311.07 L293.62,309.36 L294.22,307.64 L294.82,305.92 L295.42,304.20 L296.02,302.51 L296.62,300.85 L297.22,299.19 L297.82,297.49 L298.42,295.76 L299.02,294.01 L299.62,292.26 L300.22,290.52 L300.82,288.81 L301.42,287.15 L302.02,285.54 L302.62,284.00 L303.22,282.56 L303.82,281.16 L304.42,279.80 L305.02,278.49 L305.62,277.22 L306.22,276.00 L306.82,274.84 L307.42,273.75 L308.03,272.72 L308.63,271.78 L309.23,270.91 L309.83,270.18 L310.43,269.72 L311.03,269.47 L311.63,269.36 L312.23,269.34 L312.83,269.35 L313.43,269.33 L314.03,269.33 L314.63,269.36 L315.23,269.41 L315.83,269.49 L316.43,269.60 L317.03,269.73 L317.63,269.87 L318.23,270.03 L318.83,270.21 L319.43,270.40 L320.03,270.61 L320.63,270.83 L321.23,271.06 L321.83,271.30 L322.43,271.55 L323.03,271.80 L323.63,272.05 L324.23,272.31 L324.84,272.57 L325.44,272.82 L326.04,273.07 L326.64,273.31 L327.24,273.54 L327.84,273.77 L328.44,273.98 L329.04,274.18 L329.64,274.37 L330.24,274.56 L330.84,274.75 L331.44,274.93 L332.04,275.11 L332.64,275.29 L333.24,275.46 L333.84,275.63 L334.44,275.80 L335.04,275.97 L335.64,276.14 L336.24,276.31 L336.84,276.48 L337.44,276.65 L338.04,276.82 L338.64,276.99 L339.24,277.16 L339.84,277.34 L340.44,277.52 L341.05,277.70 L341.65,277.89 L342.25,278.08 L342.85,278.28 L343.45,278.48 L344.05,278.69 L344.65,278.91 L345.25,279.13 L345.85,279.37 L346.45,279.63 L347.05,279.91 L347.65,280.20 L348.25,280.50 L348.85,280.81 L349.45,281.13 L350.05,281.45 L350.65,281.76 L351.25,282.08 L351.85,282.39 L352.45,282.69 L353.05,282.98 L353.65,283.26 L354.25,283.52 L354.85,283.76 L355.45,283.99 L356.05,284.21 L356.65,284.43 L357.26,284.66 L357.86,284.88 L358.46,285.10 L359.06,285.31 L359.66,285.53 L360.26,285.75 L360.86,285.96 L361.46,286.18 L362.06,286.39 L362.66,286.60 L363.26,286.81 L363.86,287.02 L364.46,287.23 L365.06,287.44 L365.66,287.65 L366.26,287.86 L366.86,288.07 L367.46,288.27 L368.06,288.48 L368.66,288.68 L369.26,288.89 L369.86,289.09 L370.46,289.30 L371.06,289.50 L371.66,289.70 L372.26,289.91 L372.86,290.11 L373.47,290.31 L374.07,290.51 L374.67,290.71 L375.27,290.92 L375.87,291.12 L376.47,291.32 L377.07,291.52 L377.67,291.72 L378.27,291.92 L378.87,292.13 L379.47,292.33 L380.07,292.53 L380.67,292.73 L381.27,292.93 L381.87,293.14 L382.47,293.34 L383.07,293.54 L383.67,293.74 L384.27,293.95 L384.87,294.15 L385.47,294.36 L386.07,294.56 L386.67,294.77 L387.27,294.98 L387.87,295.18 L388.47,295.39 L389.07,295.59 L389.68,295.80 L390.28,296.00 L390.88,296.20 L391.48,296.40 L392.08,296.59 L392.68,296.79 L393.28,296.99 L393.88,297.18 L394.48,297.38 L395.08,297.57 L395.68,297.76 L396.28,297.96 L396.88,298.15 L397.48,298.35 L398.08,298.54 L398.68,298.74 L399.28,298.94 L399.88,299.14 L400.48,299.33 L401.08,299.54 L401.68,299.74 L402.28,299.94 L402.88,300.15 L403.48,300.36 L404.08,300.57 L404.68,300.79 L405.28,301.01 L405.88,301.23 L406.49,301.45 L407.09,301.68 L407.69,301.91 L408.29,302.14 L408.89,302.38 L409.49,302.62 L410.09,302.87 L410.69,303.12 L411.29,303.38 L411.89,303.64 L412.49,303.90 L413.09,304.18 L413.69,304.45 L414.29,304.73 L414.89,305.02 L415.49,305.30 L416.09,305.59 L416.69,305.89 L417.29,306.18 L417.89,306.48 L418.49,306.78 L419.09,307.09 L419.69,307.39 L420.29,307.70 L420.89,308.00 L421.49,308.31 L422.09,308.62 L422.70,308.93 L423.30,309.24 L423.90,309.55 L424.50,309.86 L425.10,310.16 L425.70,310.47 L426.30,310.78 L426.90,311.08 L427.50,311.38 L428.10,311.68 L428.70,311.98 L429.30,312.27 L429.30,322.00 L449.30,325.30" stroke="#22A6F0" stroke-width="1.15" fill="none" stroke-linejoin="round" />
<path d="M267.20,348.83 L267.80,348.60 L268.40,348.39 L269.00,348.19 L269.60,348.00 L270.20,347.81 L270.80,347.63 L271.40,347.45 L272.00,347.28 L272.60,347.10 L273.20,346.91 L273.80,346.72 L274.40,346.53 L275.00,346.32 L275.61,346.10 L276.21,345.87 L276.81,345.62 L277.41,345.35 L278.01,345.06 L278.61,344.75 L279.21,344.41 L279.81,344.05 L280.41,343.65 L281.01,343.23 L281.61,342.77 L282.21,342.28 L282.81,341.76 L283.41,341.22 L284.01,340.65 L284.61,340.06 L285.21,339.44 L285.81,338.81 L286.41,338.15 L287.01,337.48 L287.61,336.80 L288.21,336.10 L288.81,335.39 L289.41,334.68 L290.01,333.95 L290.61,333.22 L291.21,332.47 L291.82,331.71 L292.42,330.93 L293.02,330.14 L293.62,329.33 L294.22,328.52 L294.82,327.69 L295.42,326.86 L296.02,326.01 L296.62,325.16 L297.22,324.31 L297.82,323.45 L298.42,322.58 L299.02,321.71 L299.62,320.85 L300.22,319.98 L300.82,319.11 L301.42,318.24 L302.02,317.38 L302.62,316.52 L303.22,315.66 L303.82,314.80 L304.42,313.92 L305.02,313.02 L305.62,312.12 L306.22,311.20 L306.82,310.29 L307.42,309.36 L308.03,308.44 L308.63,307.53 L309.23,306.61 L309.83,305.71 L310.43,304.82 L311.03,303.94 L311.63,303.07 L312.23,302.23 L312.83,301.41 L313.43,300.61 L314.03,299.84 L314.63,299.10 L315.23,298.41 L315.83,297.78 L316.43,297.20 L317.03,296.67 L317.63,296.19 L318.23,295.75 L318.83,295.35 L319.43,294.98 L320.03,294.64 L320.63,294.32 L321.23,294.04 L321.83,293.80 L322.43,293.60 L323.03,293.43 L323.63,293.30 L324.23,293.20 L324.84,293.12 L325.44,293.07 L326.04,293.04 L326.64,293.02 L327.24,293.02 L327.84,293.02 L328.44,293.02 L329.04,293.03 L329.64,293.04 L330.24,293.06 L330.84,293.08 L331.44,293.10 L332.04,293.12 L332.64,293.15 L333.24,293.18 L333.84,293.21 L334.44,293.24 L335.04,293.28 L335.64,293.32 L336.24,293.37 L336.84,293.41 L337.44,293.46 L338.04,293.51 L338.64,293.56 L339.24,293.62 L339.84,293.67 L340.44,293.73 L341.05,293.79 L341.65,293.86 L342.25,293.92 L342.85,293.99 L343.45,294.06 L344.05,294.13 L344.65,294.20 L345.25,294.28 L345.85,294.36 L346.45,294.45 L347.05,294.55 L347.65,294.66 L348.25,294.77 L348.85,294.89 L349.45,295.02 L350.05,295.15 L350.65,295.29 L351.25,295.44 L351.85,295.59 L352.45,295.75 L353.05,295.91 L353.65,296.07 L354.25,296.24 L354.85,296.41 L355.45,296.58 L356.05,296.75 L356.65,296.93 L357.26,297.10 L357.86,297.28 L358.46,297.45 L359.06,297.63 L359.66,297.81 L360.26,297.98 L360.86,298.16 L361.46,298.34 L362.06,298.52 L362.66,298.70 L363.26,298.88 L363.86,299.06 L364.46,299.24 L365.06,299.42 L365.66,299.60 L366.26,299.78 L366.86,299.96 L367.46,300.15 L368.06,300.33 L368.66,300.51 L369.26,300.70 L369.86,300.88 L370.46,301.07 L371.06,301.25 L371.66,301.44 L372.26,301.62 L372.86,301.81 L373.47,302.00 L374.07,302.18 L374.67,302.37 L375.27,302.56 L375.87,302.75 L376.47,302.94 L377.07,303.13 L377.67,303.32 L378.27,303.51 L378.87,303.70 L379.47,303.89 L380.07,304.08 L380.67,304.27 L381.27,304.46 L381.87,304.65 L382.47,304.85 L383.07,305.04 L383.67,305.23 L384.27,305.43 L384.87,305.62 L385.47,305.81 L386.07,306.01 L386.67,306.20 L387.27,306.40 L387.87,306.59 L388.47,306.79 L389.07,306.99 L389.68,307.18 L390.28,307.38 L390.88,307.58 L391.48,307.78 L392.08,307.98 L392.68,308.18 L393.28,308.39 L393.88,308.59 L394.48,308.80 L395.08,309.00 L395.68,309.21 L396.28,309.42 L396.88,309.62 L397.48,309.83 L398.08,310.04 L398.68,310.25 L399.28,310.46 L399.88,310.68 L400.48,310.89 L401.08,311.10 L401.68,311.32 L402.28,311.53 L402.88,311.75 L403.48,311.96 L404.08,312.18 L404.68,312.40 L405.28,312.62 L405.88,312.84 L406.49,313.06 L407.09,313.28 L407.69,313.50 L408.29,313.72 L408.89,313.95 L409.49,314.17 L410.09,314.39 L410.69,314.62 L411.29,314.85 L411.89,315.08 L412.49,315.31 L413.09,315.54 L413.69,315.78 L414.29,316.01 L414.89,316.25 L415.49,316.49 L416.09,316.73 L416.69,316.97 L417.29,317.21 L417.89,317.45 L418.49,317.69 L419.09,317.94 L419.69,318.18 L420.29,318.42 L420.89,318.67 L421.49,318.91 L422.09,319.16 L422.70,319.41 L423.30,319.65 L423.90,319.90 L424.50,320.14 L425.10,320.39 L425.70,320.63 L426.30,320.88 L426.90,321.12 L427.50,321.36 L428.10,321.61 L428.70,321.85 L429.30,322.09 L449.30,325.30" stroke="#F5A623" stroke-width="1.15" fill="none" stroke-linejoin="round" />
<path d="M267.20,350.06 L267.80,349.83 L268.40,349.61 L269.00,349.39 L269.60,349.18 L270.20,348.98 L270.80,348.78 L271.40,348.57 L272.00,348.37 L272.60,348.17 L273.20,347.97 L273.80,347.76 L274.40,347.55 L275.00,347.33 L275.61,347.10 L276.21,346.87 L276.81,346.63 L277.41,346.38 L278.01,346.11 L278.61,345.83 L279.21,345.54 L279.81,345.23 L280.41,344.91 L281.01,344.55 L281.61,344.18 L282.21,343.77 L282.81,343.35 L283.41,342.91 L284.01,342.46 L284.61,341.99 L285.21,341.51 L285.81,341.03 L286.41,340.54 L287.01,340.05 L287.61,339.57 L288.21,339.09 L288.81,338.61 L289.41,338.15 L290.01,337.69 L290.61,337.26 L291.21,336.82 L291.82,336.38 L292.42,335.95 L293.02,335.51 L293.62,335.07 L294.22,334.63 L294.82,334.19 L295.42,333.76 L296.02,333.32 L296.62,332.89 L297.22,332.46 L297.82,332.03 L298.42,331.61 L299.02,331.19 L299.62,330.77 L300.22,330.36 L300.82,329.96 L301.42,329.56 L302.02,329.16 L302.62,328.77 L303.22,328.39 L303.82,328.01 L304.42,327.64 L305.02,327.26 L305.62,326.89 L306.22,326.52 L306.82,326.16 L307.42,325.80 L308.03,325.45 L308.63,325.10 L309.23,324.76 L309.83,324.43 L310.43,324.11 L311.03,323.80 L311.63,323.49 L312.23,323.20 L312.83,322.92 L313.43,322.65 L314.03,322.40 L314.63,322.15 L315.23,321.92 L315.83,321.70 L316.43,321.48 L317.03,321.27 L317.63,321.07 L318.23,320.87 L318.83,320.69 L319.43,320.51 L320.03,320.34 L320.63,320.18 L321.23,320.02 L321.83,319.87 L322.43,319.73 L323.03,319.60 L323.63,319.48 L324.23,319.36 L324.84,319.25 L325.44,319.15 L326.04,319.06 L326.64,318.97 L327.24,318.89 L327.84,318.82 L328.44,318.76 L329.04,318.70 L329.64,318.65 L330.24,318.60 L330.84,318.56 L331.44,318.53 L332.04,318.50 L332.64,318.47 L333.24,318.45 L333.84,318.43 L334.44,318.42 L335.04,318.41 L335.64,318.40 L336.24,318.39 L336.84,318.39 L337.44,318.39 L338.04,318.39 L338.64,318.39 L339.24,318.40 L339.84,318.40 L340.44,318.40 L341.05,318.41 L341.65,318.41 L342.25,318.41 L342.85,318.41 L343.45,318.41 L344.05,318.41 L344.65,318.41 L345.25,318.41 L345.85,318.41 L346.45,318.41 L347.05,318.42 L347.65,318.43 L348.25,318.44 L348.85,318.46 L349.45,318.48 L350.05,318.50 L350.65,318.52 L351.25,318.54 L351.85,318.56 L352.45,318.58 L353.05,318.60 L353.65,318.62 L354.25,318.64 L354.85,318.65 L355.45,318.66 L356.05,318.67 L356.65,318.68 L357.26,318.69 L357.86,318.70 L358.46,318.71 L359.06,318.72 L359.66,318.72 L360.26,318.73 L360.86,318.73 L361.46,318.74 L362.06,318.74 L362.66,318.75 L363.26,318.75 L363.86,318.76 L364.46,318.76 L365.06,318.76 L365.66,318.77 L366.26,318.77 L366.86,318.77 L367.46,318.78 L368.06,318.78 L368.66,318.78 L369.26,318.79 L369.86,318.79 L370.46,318.80 L371.06,318.80 L371.66,318.80 L372.26,318.81 L372.86,318.82 L373.47,318.82 L374.07,318.83 L374.67,318.84 L375.27,318.85 L375.87,318.85 L376.47,318.86 L377.07,318.87 L377.67,318.89 L378.27,318.90 L378.87,318.91 L379.47,318.93 L380.07,318.94 L380.67,318.96 L381.27,318.98 L381.87,318.99 L382.47,319.01 L383.07,319.04 L383.67,319.06 L384.27,319.08 L384.87,319.11 L385.47,319.14 L386.07,319.16 L386.67,319.19 L387.27,319.23 L387.87,319.26 L388.47,319.30 L389.07,319.34 L389.68,319.38 L390.28,319.43 L390.88,319.47 L391.48,319.53 L392.08,319.58 L392.68,319.64 L393.28,319.70 L393.88,319.77 L394.48,319.83 L395.08,319.90 L395.68,319.97 L396.28,320.04 L396.88,320.12 L397.48,320.19 L398.08,320.27 L398.68,320.35 L399.28,320.43 L399.88,320.50 L400.48,320.59 L401.08,320.67 L401.68,320.75 L402.28,320.83 L402.88,320.91 L403.48,320.99 L404.08,321.08 L404.68,321.16 L405.28,321.24 L405.88,321.32 L406.49,321.40 L407.09,321.48 L407.69,321.56 L408.29,321.63 L408.89,321.71 L409.49,321.78 L410.09,321.85 L410.69,321.92 L411.29,322.00 L411.89,322.07 L412.49,322.14 L413.09,322.21 L413.69,322.28 L414.29,322.36 L414.89,322.43 L415.49,322.50 L416.09,322.57 L416.69,322.65 L417.29,322.72 L417.89,322.79 L418.49,322.86 L419.09,322.94 L419.69,323.01 L420.29,323.08 L420.89,323.15 L421.49,323.23 L422.09,323.30 L422.70,323.37 L423.30,323.45 L423.90,323.52 L424.50,323.59 L425.10,323.66 L425.70,323.74 L426.30,323.81 L426.90,323.88 L427.50,323.96 L428.10,324.03 L428.70,324.10 L429.30,324.17 L449.30,325.30" stroke="#C898E8" stroke-width="1.15" fill="none" stroke-linejoin="round" />
<path d="M267.20,352.63 L267.80,352.46 L268.40,352.29 L269.00,352.13 L269.60,351.97 L270.20,351.81 L270.80,351.66 L271.40,351.51 L272.00,351.35 L272.60,351.20 L273.20,351.05 L273.80,350.89 L274.40,350.73 L275.00,350.56 L275.61,350.39 L276.21,350.22 L276.81,350.03 L277.41,349.84 L278.01,349.64 L278.61,349.43 L279.21,349.21 L279.81,348.98 L280.41,348.74 L281.01,348.47 L281.61,348.17 L282.21,347.86 L282.81,347.52 L283.41,347.17 L284.01,346.81 L284.61,346.44 L285.21,346.07 L285.81,345.70 L286.41,345.32 L287.01,344.96 L287.61,344.60 L288.21,344.26 L288.81,343.93 L289.41,343.63 L290.01,343.35 L290.61,343.09 L291.21,342.85 L291.82,342.61 L292.42,342.38 L293.02,342.15 L293.62,341.94 L294.22,341.72 L294.82,341.52 L295.42,341.32 L296.02,341.13 L296.62,340.94 L297.22,340.76 L297.82,340.58 L298.42,340.41 L299.02,340.25 L299.62,340.09 L300.22,339.93 L300.82,339.78 L301.42,339.64 L302.02,339.50 L302.62,339.37 L303.22,339.24 L303.82,339.12 L304.42,339.00 L305.02,338.90 L305.62,338.81 L306.22,338.72 L306.82,338.65 L307.42,338.58 L308.03,338.51 L308.63,338.45 L309.23,338.40 L309.83,338.35 L310.43,338.30 L311.03,338.26 L311.63,338.22 L312.23,338.18 L312.83,338.14 L313.43,338.10 L314.03,338.06 L314.63,338.03 L315.23,337.99 L315.83,337.95 L316.43,337.92 L317.03,337.89 L317.63,337.87 L318.23,337.84 L318.83,337.82 L319.43,337.80 L320.03,337.78 L320.63,337.76 L321.23,337.75 L321.83,337.73 L322.43,337.72 L323.03,337.71 L323.63,337.70 L324.23,337.69 L324.84,337.69 L325.44,337.68 L326.04,337.68 L326.64,337.67 L327.24,337.67 L327.84,337.67 L328.44,337.66 L329.04,337.66 L329.64,337.66 L330.24,337.66 L330.84,337.66 L331.44,337.66 L332.04,337.65 L332.64,337.65 L333.24,337.65 L333.84,337.65 L334.44,337.65 L335.04,337.65 L335.64,337.65 L336.24,337.64 L336.84,337.64 L337.44,337.64 L338.04,337.64 L338.64,337.64 L339.24,337.64 L339.84,337.64 L340.44,337.64 L341.05,337.63 L341.65,337.63 L342.25,337.63 L342.85,337.63 L343.45,337.63 L344.05,337.63 L344.65,337.63 L345.25,337.63 L345.85,337.63 L346.45,337.63 L347.05,337.63 L347.65,337.63 L348.25,337.62 L348.85,337.62 L349.45,337.62 L350.05,337.62 L350.65,337.62 L351.25,337.62 L351.85,337.62 L352.45,337.62 L353.05,337.62 L353.65,337.62 L354.25,337.62 L354.85,337.62 L355.45,337.62 L356.05,337.62 L356.65,337.62 L357.26,337.62 L357.86,337.62 L358.46,337.62 L359.06,337.62 L359.66,337.62 L360.26,337.62 L360.86,337.62 L361.46,337.62 L362.06,337.62 L362.66,337.62 L363.26,337.62 L363.86,337.62 L364.46,337.62 L365.06,337.62 L365.66,337.62 L366.26,337.62 L366.86,337.62 L367.46,337.62 L368.06,337.62 L368.66,337.62 L369.26,337.62 L369.86,337.62 L370.46,337.62 L371.06,337.62 L371.66,337.62 L372.26,337.62 L372.86,337.62 L373.47,337.62 L374.07,337.62 L374.67,337.62 L375.27,337.62 L375.87,337.62 L376.47,337.62 L377.07,337.62 L377.67,337.63 L378.27,337.63 L378.87,337.63 L379.47,337.63 L380.07,337.63 L380.67,337.63 L381.27,337.63 L381.87,337.63 L382.47,337.63 L383.07,337.63 L383.67,337.63 L384.27,337.63 L384.87,337.63 L385.47,337.63 L386.07,337.63 L386.67,337.63 L387.27,337.63 L387.87,337.63 L388.47,337.64 L389.07,337.64 L389.68,337.64 L390.28,337.64 L390.88,337.64 L391.48,337.64 L392.08,337.64 L392.68,337.64 L393.28,337.64 L393.88,337.64 L394.48,337.64 L395.08,337.64 L395.68,337.64 L396.28,337.64 L396.88,337.64 L397.48,337.64 L398.08,337.65 L398.68,337.65 L399.28,337.65 L399.88,337.65 L400.48,337.65 L401.08,337.65 L401.68,337.65 L402.28,337.65 L402.88,337.65 L403.48,337.65 L404.08,337.65 L404.68,337.65 L405.28,337.65 L405.88,337.65 L406.49,337.65 L407.09,337.65 L407.69,337.66 L408.29,337.66 L408.89,337.66 L409.49,337.66 L410.09,337.66 L410.69,337.66 L411.29,337.66 L411.89,337.66 L412.49,337.66 L413.09,337.66 L413.69,337.66 L414.29,337.66 L414.89,337.66 L415.49,337.66 L416.09,337.66 L416.69,337.66 L417.29,337.66 L417.89,337.66 L418.49,337.66 L419.09,337.66 L419.69,337.66 L420.29,337.66 L420.89,337.66 L421.49,337.66 L422.09,337.67 L422.70,337.67 L423.30,337.67 L423.90,337.67 L424.50,337.67 L425.10,337.67 L425.70,337.67 L426.30,337.67 L426.90,337.67 L427.50,337.67 L428.10,337.67 L428.70,337.67 L429.30,337.67 L429.30,318.60 L449.30,325.30" stroke="#E0338F" stroke-width="1.15" fill="none" stroke-linejoin="round" />
<line x1="343.10" y1="226.60" x2="357.70" y2="226.60" stroke="#7A7A7A" stroke-width="1.5" />
<text x="360.90" y="230.30" font-size="12.4" text-anchor="start" fill="#050505" font-weight="normal" style='font-family:"Liberation Sans", sans-serif' >20014</text>
<line x1="343.10" y1="241.50" x2="357.70" y2="241.50" stroke="#2F6FD0" stroke-width="1.5" />
<text x="360.90" y="245.20" font-size="12.4" text-anchor="start" fill="#050505" font-weight="normal" style='font-family:"Liberation Sans", sans-serif' >10000</text>
<line x1="343.10" y1="257.00" x2="357.70" y2="257.00" stroke="#22A6F0" stroke-width="1.5" />
<text x="360.90" y="260.70" font-size="12.4" text-anchor="start" fill="#050505" font-weight="normal" style='font-family:"Liberation Sans", sans-serif' >1000</text>
<line x1="401.00" y1="226.60" x2="415.60" y2="226.60" stroke="#F5A623" stroke-width="1.5" />
<text x="418.80" y="230.30" font-size="12.4" text-anchor="start" fill="#050505" font-weight="normal" style='font-family:"Liberation Sans", sans-serif' >100</text>
<line x1="401.00" y1="241.50" x2="415.60" y2="241.50" stroke="#C898E8" stroke-width="1.5" />
<text x="418.80" y="245.20" font-size="12.4" text-anchor="start" fill="#050505" font-weight="normal" style='font-family:"Liberation Sans", sans-serif' >0</text>
<line x1="401.00" y1="257.00" x2="415.60" y2="257.00" stroke="#E0338F" stroke-width="1.5" />
<text x="418.80" y="260.70" font-size="12.4" text-anchor="start" fill="#050505" font-weight="normal" style='font-family:"Liberation Sans", sans-serif' >-100</text>
<text x="475.00" y="209.60" font-size="16" text-anchor="start" fill="#000" font-weight="bold" style='font-family:"Liberation Sans", sans-serif' >f</text>
<rect x="502.5" y="215.2" width="181.89999999999998" height="147.0" fill="none" stroke="#1a1a1a" stroke-width="1.1"/>
<line x1="499.70" y1="361.60" x2="502.50" y2="361.60" stroke="#1a1a1a" stroke-width="1.0" />
<text x="497.00" y="366.00" font-size="12.4" text-anchor="end" fill="#050505" font-weight="normal" style='font-family:"Liberation Sans", sans-serif' >-2</text>
<line x1="500.90" y1="339.15" x2="502.50" y2="339.15" stroke="#1a1a1a" stroke-width="1.0" />
<line x1="499.70" y1="316.70" x2="502.50" y2="316.70" stroke="#1a1a1a" stroke-width="1.0" />
<text x="497.00" y="321.10" font-size="12.4" text-anchor="end" fill="#050505" font-weight="normal" style='font-family:"Liberation Sans", sans-serif' >0</text>
<line x1="500.90" y1="294.25" x2="502.50" y2="294.25" stroke="#1a1a1a" stroke-width="1.0" />
<line x1="499.70" y1="271.80" x2="502.50" y2="271.80" stroke="#1a1a1a" stroke-width="1.0" />
<text x="497.00" y="276.20" font-size="12.4" text-anchor="end" fill="#050505" font-weight="normal" style='font-family:"Liberation Sans", sans-serif' >2</text>
<line x1="500.90" y1="249.35" x2="502.50" y2="249.35" stroke="#1a1a1a" stroke-width="1.0" />
<line x1="499.70" y1="226.90" x2="502.50" y2="226.90" stroke="#1a1a1a" stroke-width="1.0" />
<text x="497.00" y="231.30" font-size="12.4" text-anchor="end" fill="#050505" font-weight="normal" style='font-family:"Liberation Sans", sans-serif' >4</text>
<line x1="515.20" y1="362.20" x2="515.20" y2="364.80" stroke="#1a1a1a" stroke-width="1.0" />
<text x="515.20" y="376.80" font-size="12.4" text-anchor="middle" fill="#050505" font-weight="normal" style='font-family:"Liberation Sans", sans-serif' >-1.0</text>
<line x1="541.28" y1="362.20" x2="541.28" y2="363.80" stroke="#1a1a1a" stroke-width="1.0" />
<line x1="567.37" y1="362.20" x2="567.37" y2="364.80" stroke="#1a1a1a" stroke-width="1.0" />
<text x="567.37" y="376.80" font-size="12.4" text-anchor="middle" fill="#050505" font-weight="normal" style='font-family:"Liberation Sans", sans-serif' >-0.8</text>
<line x1="593.45" y1="362.20" x2="593.45" y2="363.80" stroke="#1a1a1a" stroke-width="1.0" />
<line x1="619.53" y1="362.20" x2="619.53" y2="364.80" stroke="#1a1a1a" stroke-width="1.0" />
<text x="619.53" y="376.80" font-size="12.4" text-anchor="middle" fill="#050505" font-weight="normal" style='font-family:"Liberation Sans", sans-serif' >-0.6</text>
<line x1="645.62" y1="362.20" x2="645.62" y2="363.80" stroke="#1a1a1a" stroke-width="1.0" />
<line x1="671.70" y1="362.20" x2="671.70" y2="364.80" stroke="#1a1a1a" stroke-width="1.0" />
<text x="671.70" y="376.80" font-size="12.4" text-anchor="middle" fill="#050505" font-weight="normal" style='font-family:"Liberation Sans", sans-serif' >-0.4</text>
<text x="593.90" y="391.20" font-size="12.4" text-anchor="middle" fill="#050505" font-weight="normal" style='font-family:"Liberation Sans", sans-serif' >Electrode potential (V vs. RHE)</text>
<text x="0" y="0" font-size="12.4" fill="#111" text-anchor="middle" style='font-family:"Liberation Sans", sans-serif' transform="translate(485.2,289.1) rotate(-90)">pH at OHP</text>
<path d="M515.20,226.90 L567.37,240.37 L619.53,254.51 L645.62,261.02 L671.70,265.06" stroke="#808080" stroke-width="1.1" fill="none" stroke-linejoin="round" />
<path d="M512.20,226.90 L517.80,223.90 L517.80,229.90 Z" fill="#808080"/>
<path d="M564.37,240.37 L569.97,237.37 L569.97,243.37 Z" fill="#808080"/>
<path d="M616.53,254.51 L622.13,251.51 L622.13,257.51 Z" fill="#808080"/>
<path d="M642.62,261.02 L648.22,258.02 L648.22,264.02 Z" fill="#808080"/>
<path d="M668.70,265.06 L674.30,262.06 L674.30,268.06 Z" fill="#808080"/>
<path d="M515.20,255.64 L567.37,266.19 L619.53,276.96 L645.62,282.35 L671.70,286.39" stroke="#2C6FD6" stroke-width="1.1" fill="none" stroke-linejoin="round" />
<path d="M515.20,252.34 L518.50,255.64 L515.20,258.94 L511.90,255.64 Z" fill="#2C6FD6"/>
<path d="M567.37,262.89 L570.67,266.19 L567.37,269.49 L564.07,266.19 Z" fill="#2C6FD6"/>
<path d="M619.53,273.66 L622.83,276.96 L619.53,280.26 L616.23,276.96 Z" fill="#2C6FD6"/>
<path d="M645.62,279.05 L648.92,282.35 L645.62,285.65 L642.32,282.35 Z" fill="#2C6FD6"/>
<path d="M671.70,283.09 L675.00,286.39 L671.70,289.69 L668.40,286.39 Z" fill="#2C6FD6"/>
<path d="M515.20,326.35 L567.37,330.39 L619.53,333.09 L645.62,334.66 L671.70,336.23" stroke="#1AA3EE" stroke-width="1.1" fill="none" stroke-linejoin="round" />
<path d="M512.20,323.75 L518.20,323.75 L515.20,329.15 Z" fill="#1AA3EE"/>
<path d="M564.37,327.79 L570.37,327.79 L567.37,333.19 Z" fill="#1AA3EE"/>
<path d="M616.53,330.49 L622.53,330.49 L619.53,335.89 Z" fill="#1AA3EE"/>
<path d="M642.62,332.06 L648.62,332.06 L645.62,337.46 Z" fill="#1AA3EE"/>
<path d="M668.70,333.63 L674.70,333.63 L671.70,339.03 Z" fill="#1AA3EE"/>
<path d="M515.20,349.93 L567.37,349.48 L619.53,349.25 L645.62,348.80 L671.70,347.46" stroke="#D8A8EE" stroke-width="1.1" fill="none" stroke-linejoin="round" />
<circle cx="515.20" cy="349.93" r="2.3" fill="#D8A8EE"/>
<circle cx="567.37" cy="349.48" r="2.3" fill="#D8A8EE"/>
<circle cx="619.53" cy="349.25" r="2.3" fill="#D8A8EE"/>
<circle cx="645.62" cy="348.80" r="2.3" fill="#D8A8EE"/>
<circle cx="671.70" cy="347.46" r="2.3" fill="#D8A8EE"/>
<path d="M515.20,351.72 L567.37,350.15 L619.53,348.58 L645.62,346.56 L671.70,346.56" stroke="#F5A623" stroke-width="1.1" fill="none" stroke-linejoin="round" />
<path d="M512.50,354.12 L517.90,354.12 L515.20,349.12 Z" fill="#F5A623"/>
<path d="M564.67,352.55 L570.07,352.55 L567.37,347.55 Z" fill="#F5A623"/>
<path d="M616.83,350.98 L622.23,350.98 L619.53,345.98 Z" fill="#F5A623"/>
<path d="M642.92,348.96 L648.32,348.96 L645.62,343.96 Z" fill="#F5A623"/>
<path d="M669.00,348.96 L674.40,348.96 L671.70,343.96 Z" fill="#F5A623"/>
<path d="M515.20,353.52 L567.37,353.07 L619.53,352.40 L645.62,351.95 L671.70,350.38" stroke="#E0338F" stroke-width="1.1" fill="none" stroke-linejoin="round" />
<rect x="513.30" y="351.62" width="3.8" height="3.8" fill="#E0338F"/>
<rect x="565.47" y="351.17" width="3.8" height="3.8" fill="#E0338F"/>
<rect x="617.63" y="350.50" width="3.8" height="3.8" fill="#E0338F"/>
<rect x="643.72" y="350.05" width="3.8" height="3.8" fill="#E0338F"/>
<rect x="669.80" y="348.48" width="3.8" height="3.8" fill="#E0338F"/>
</svg></body></html>
